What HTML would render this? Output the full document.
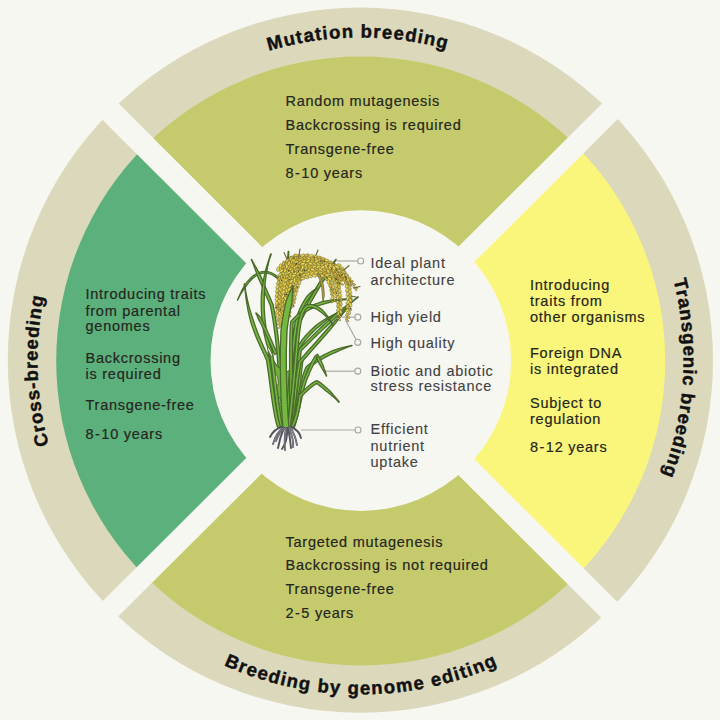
<!DOCTYPE html>
<html><head><meta charset="utf-8">
<style>
html,body{margin:0;padding:0;background:#f7f7f2;width:720px;height:720px;overflow:hidden}
svg{display:block}
.t{font-family:"Liberation Sans",sans-serif;font-size:14.5px;letter-spacing:0.75px;fill:#262620;stroke:#262620;stroke-width:0.2px}
.lb{font-family:"Liberation Sans",sans-serif;font-size:14.5px;letter-spacing:0.75px;fill:#424242;stroke:#424242;stroke-width:0.12px}
.h{font-family:"Liberation Sans",sans-serif;font-size:18.5px;font-weight:bold;letter-spacing:1.2px;fill:#111;stroke:#111;stroke-width:0.45px}
</style></head>
<body>
<svg width="720" height="720" viewBox="0 0 720 720">
<defs>
<path id="pTop" d="M 37.5 360.5 A 323 323 0 0 1 683.5 360.5"/>
<path id="pRight" d="M 360.5 37.5 A 323 323 0 0 1 360.5 683.5"/>
<path id="pLeft" d="M 360.5 683.5 A 323 323 0 0 1 360.5 37.5"/>
<path id="pBot" d="M 26.5 360.5 A 334 334 0 0 0 694.5 360.5"/>
</defs>
<rect width="720" height="720" fill="#f7f7f2"/>
<circle cx="360.4" cy="360.2" r="352.6" fill="#dcd8bb"/>
<path d="M 360.7 361.0 L 145.39 145.69 A 304.5 304.5 0 0 1 576.01 145.69 Z" fill="#c5cb6d"/>
<path d="M 360.7 361.0 L 576.01 145.69 A 304.5 304.5 0 0 1 576.01 576.31 Z" fill="#f9f67b"/>
<path d="M 360.7 361.0 L 576.01 576.31 A 304.5 304.5 0 0 1 145.39 576.31 Z" fill="#c5cb6d"/>
<path d="M 360.7 361.0 L 145.39 576.31 A 304.5 304.5 0 0 1 145.39 145.69 Z" fill="#5cb07b"/>
<polygon points="-10,-25 730,714.6 730,746.2 -10,7.5" fill="#f7f7f2"/>
<polygon points="716,-10 747.5,-10 4.1,730 -26.7,730" fill="#f7f7f2"/>
<circle cx="360.8" cy="360.6" r="150.3" fill="#f7f7f2"/>

<text class="h"><textPath href="#pTop" startOffset="504.7" text-anchor="middle">Mutation breeding</textPath></text>
<text class="h" style="letter-spacing:0.95px"><textPath href="#pRight" startOffset="525.4" text-anchor="middle">Transgenic breeding</textPath></text>
<text class="h" style="letter-spacing:1px"><textPath href="#pLeft" startOffset="497" text-anchor="middle">Cross-breeding</textPath></text>
<text class="h" style="letter-spacing:1.32px"><textPath href="#pBot" startOffset="525.1" text-anchor="middle">Breeding by genome editing</textPath></text>

<g class="t">
<text x="285.5" y="106.3">Random mutagenesis</text>
<text x="285.5" y="130">Backcrossing is required</text>
<text x="285.5" y="153.8">Transgene-free</text>
<text x="285.5" y="177.5">8<tspan dx="0.7">-</tspan><tspan dx="0.7">10 years</tspan></text>

<text x="285.5" y="546.7">Targeted mutagenesis</text>
<text x="285.5" y="570.4">Backcrossing is not required</text>
<text x="285.5" y="594.3">Transgene-free</text>
<text x="285.5" y="617.6">2<tspan dx="0.7">-</tspan><tspan dx="0.7">5 years</tspan></text>

<text x="85.5" y="298.8">Introducing traits</text>
<text x="85.5" y="315.5">from parental</text>
<text x="85.5" y="331">genomes</text>
<text x="85.5" y="363">Backcrossing</text>
<text x="85.5" y="378.8">is required</text>
<text x="85.5" y="409.5">Transgene-free</text>
<text x="85.5" y="438.8">8<tspan dx="0.7">-</tspan><tspan dx="0.7">10 years</tspan></text>

<text x="530" y="289.8">Introducing</text>
<text x="530" y="306.4">traits from</text>
<text x="530" y="322">other organisms</text>
<text x="530" y="357.9">Foreign DNA</text>
<text x="530" y="373.7">is integrated</text>
<text x="530" y="407.8">Subject to</text>
<text x="530" y="423.6">regulation</text>
<text x="530" y="451.6">8<tspan dx="0.7">-</tspan><tspan dx="0.7">12 years</tspan></text>
</g>

<g class="lb">
<text x="370.5" y="268.3">Ideal plant</text>
<text x="370.5" y="285">architecture</text>
<text x="370.5" y="322.1">High yield</text>
<text x="370.5" y="347.7">High quality</text>
<text x="370.5" y="376.1">Biotic and abiotic</text>
<text x="370.5" y="390.6">stress resistance</text>
<text x="370.5" y="434.3">Efficient</text>
<text x="370.5" y="450.8">nutrient</text>
<text x="370.5" y="467">uptake</text>
</g>

<g stroke="#a8a8a4" stroke-width="1.2" fill="#f7f7f2">
<path d="M 336.7 261 L 357.7 261" fill="none"/>
<path d="M 342 317.2 L 354.8 317.2" fill="none"/>
<path d="M 345.7 320.5 L 356 339.5" fill="none"/>
<path d="M 325 371.2 L 354.8 371.2" fill="none"/>
<path d="M 301 430 L 355 430" fill="none"/>
<circle cx="360.7" cy="261" r="3"/>
<circle cx="357.8" cy="317.2" r="3"/>
<circle cx="357.8" cy="342.3" r="3"/>
<circle cx="357.8" cy="371.2" r="3"/>
<circle cx="358" cy="430" r="3"/>
</g>

<!-- PLANT -->
<g id="plant" stroke-linejoin="round">
<path d="M282.6 281.4 L279.9 278.6 L277.2 276.2 L274.4 274.2 L271.5 272.8 L268.6 271.8 L265.6 271.4 L262.7 271.5 L259.7 272.2 L256.7 273.5 L253.8 275.3 L250.8 277.8 L248.0 280.9 L245.1 284.6 L242.5 289.1 L240.0 294.2 L237.4 299.9 L237.6 300.1 L240.5 294.5 L243.5 289.7 L246.5 285.6 L249.3 282.0 L252.0 279.0 L254.8 276.7 L257.5 275.0 L260.2 273.8 L262.9 273.2 L265.5 273.1 L268.2 273.5 L270.8 274.3 L273.5 275.7 L276.1 277.5 L278.8 279.8 L281.4 282.6Z" fill="#74b842" stroke="#4b6a2c" stroke-width="1.2"/>
<path d="M286.4 427.0 L286.2 417.8 L286.1 407.9 L286.1 397.5 L286.0 386.6 L286.1 375.2 L286.2 363.6 L286.3 351.8 L286.5 339.8 L286.7 327.9 L287.0 316.0 L287.3 304.3 L287.7 292.8 L288.2 281.7 L288.3 271.1 L288.4 261.0 L288.8 251.5 L288.2 251.5 L287.4 260.9 L286.3 271.0 L285.4 281.6 L284.9 292.7 L284.5 304.2 L284.2 315.9 L283.9 327.8 L283.7 339.8 L283.5 351.7 L283.3 363.6 L283.3 375.2 L283.2 386.6 L283.2 397.5 L283.3 408.0 L283.4 417.8 L283.6 427.0Z" fill="#74b842" stroke="#4b6a2c" stroke-width="1.3"/>
<path d="M293.2 335.6 L295.7 331.0 L298.1 326.3 L300.6 321.6 L303.1 316.9 L305.6 312.2 L308.1 307.5 L310.7 302.8 L313.3 298.1 L316.0 293.4 L318.8 288.7 L321.6 284.0 L324.5 279.3 L327.5 274.6 L330.3 269.6 L333.1 264.5 L336.2 259.6 L335.8 259.4 L332.3 264.0 L328.7 268.5 L325.2 273.0 L322.2 277.8 L319.2 282.5 L316.4 287.3 L313.6 292.0 L310.9 296.7 L308.3 301.5 L305.7 306.2 L303.1 310.9 L300.6 315.6 L298.1 320.3 L295.6 325.0 L293.2 329.7 L290.8 334.4Z" fill="#74b842" stroke="#4b6a2c" stroke-width="1.3"/>
<path d="M284.4 426.9 L284.0 419.8 L283.6 412.5 L283.2 404.9 L282.8 397.2 L282.4 389.3 L281.9 381.3 L281.3 373.2 L280.7 365.1 L280.1 357.1 L279.4 349.1 L278.6 341.2 L277.7 333.5 L276.7 325.9 L275.6 318.6 L274.4 311.5 L273.1 304.6 L271.9 301.9 L270.8 299.3 L269.6 296.6 L268.3 293.7 L267.1 290.8 L265.8 287.9 L264.5 284.9 L263.2 281.9 L261.9 278.8 L260.5 275.8 L259.0 272.9 L257.5 270.1 L256.0 267.3 L254.4 264.6 L253.0 262.0 L251.7 259.4 L251.3 259.6 L252.5 262.2 L253.6 265.0 L254.6 267.9 L255.7 270.9 L256.8 273.9 L258.0 277.0 L259.3 280.0 L260.6 283.0 L261.9 286.0 L263.2 289.0 L264.5 292.0 L265.8 294.9 L267.0 297.7 L268.2 300.4 L269.3 303.1 L270.3 305.4 L271.6 312.0 L272.8 319.0 L273.9 326.3 L274.9 333.8 L275.8 341.5 L276.6 349.4 L277.3 357.3 L277.9 365.4 L278.5 373.4 L279.1 381.5 L279.6 389.4 L280.0 397.3 L280.4 405.1 L280.8 412.6 L281.2 420.0 L281.6 427.1Z" fill="#74b842" stroke="#4b6a2c" stroke-width="1.3"/>
<path d="M268 352 L272 380 L274.5 400 L276.5 413 L279 422 L282 426.5 L286 428 L291 427 L294.5 422 L298 410 L300 395 L301 378 L303 360 L296 368 L286 372 L277 366Z" fill="#70b43e" stroke="#4d6d2c" stroke-width="1.2"/>
<path d="M282.5 426.7 L281.7 422.6 L281.1 418.4 L280.4 414.1 L279.8 409.7 L279.2 405.3 L278.6 400.8 L278.0 396.2 L277.5 391.6 L276.9 386.9 L276.4 382.1 L275.8 377.2 L275.2 372.3 L274.5 367.2 L273.9 362.2 L273.2 357.0 L272.5 351.6 L270.8 347.2 L269.3 342.5 L268.0 337.5 L266.8 332.2 L265.9 326.5 L265.1 320.7 L264.6 314.5 L264.2 308.2 L264.2 301.7 L264.4 295.1 L264.7 288.4 L265.3 281.6 L266.2 274.7 L267.4 267.8 L269.0 260.9 L271.3 254.1 L270.7 253.9 L268.5 260.7 L266.4 267.5 L264.6 274.4 L263.2 281.3 L262.1 288.1 L261.4 294.9 L261.2 301.7 L261.3 308.3 L261.6 314.7 L262.1 321.0 L262.9 327.0 L263.9 332.8 L265.1 338.2 L266.4 343.4 L268.0 348.2 L269.5 352.4 L270.2 357.4 L270.9 362.6 L271.6 367.6 L272.2 372.6 L272.8 377.5 L273.4 382.4 L274.0 387.2 L274.5 391.9 L275.1 396.6 L275.6 401.2 L276.2 405.7 L276.8 410.1 L277.5 414.5 L278.1 418.8 L278.8 423.1 L279.5 427.3Z" fill="#74b842" stroke="#4b6a2c" stroke-width="1.3"/>
<path d="M280.4 426.6 L279.5 423.6 L278.7 420.5 L277.9 417.1 L277.2 413.4 L276.5 409.6 L275.9 405.6 L275.2 401.4 L274.6 397.0 L274.0 392.6 L273.4 388.0 L272.8 383.4 L272.2 378.7 L271.6 374.0 L270.9 369.2 L270.2 364.5 L269.4 359.6 L268.2 356.5 L266.8 353.5 L265.3 350.3 L263.8 346.9 L262.2 343.4 L260.5 339.6 L258.8 335.5 L257.1 331.2 L255.4 326.6 L253.8 321.7 L252.0 316.4 L250.2 310.8 L248.6 304.8 L247.1 298.3 L245.7 291.4 L244.8 284.0 L244.2 284.0 L245.2 291.5 L246.0 298.5 L247.1 305.1 L248.2 311.3 L249.5 317.1 L250.9 322.6 L252.6 327.6 L254.3 332.3 L256.0 336.7 L257.7 340.8 L259.4 344.6 L261.1 348.2 L262.6 351.6 L264.1 354.7 L265.4 357.7 L266.6 360.4 L267.2 364.9 L267.9 369.7 L268.6 374.4 L269.2 379.1 L269.8 383.8 L270.4 388.4 L271.0 393.0 L271.6 397.5 L272.3 401.8 L272.9 406.0 L273.6 410.1 L274.3 414.0 L275.0 417.7 L275.8 421.2 L276.7 424.5 L277.6 427.4Z" fill="#74b842" stroke="#4b6a2c" stroke-width="1.3"/>
<path d="M277.2 353.5 L275.7 350.1 L274.3 346.9 L272.9 343.7 L271.6 340.6 L270.2 337.6 L269.0 334.7 L267.7 331.9 L266.5 329.2 L265.2 326.6 L264.0 324.2 L262.9 321.8 L261.7 319.6 L260.5 317.5 L259.0 315.8 L257.5 314.3 L256.2 312.9 L255.8 313.1 L256.7 314.8 L257.5 316.8 L258.2 318.9 L259.4 320.9 L260.5 323.0 L261.7 325.3 L262.8 327.8 L264.0 330.3 L265.3 333.0 L266.5 335.8 L267.8 338.7 L269.1 341.7 L270.5 344.8 L271.9 347.9 L273.3 351.2 L274.8 354.5Z" fill="#74b842" stroke="#4b6a2c" stroke-width="1.3"/>
<ellipse cx="270" cy="352" rx="1.1" ry="5" transform="rotate(-25 270 352)" fill="#f2f2ea" stroke="#4b6a2c" stroke-width="0.9"/>
<ellipse cx="277" cy="380" rx="1.0" ry="6" transform="rotate(-8 277 380)" fill="#f2f2ea" stroke="#4b6a2c" stroke-width="0.9"/>
<ellipse cx="295" cy="375" rx="1.1" ry="6" transform="rotate(10 295 375)" fill="#f2f2ea" stroke="#4b6a2c" stroke-width="0.9"/>
<ellipse cx="291" cy="398" rx="0.9" ry="5" transform="rotate(6 291 398)" fill="#f2f2ea" stroke="#4b6a2c" stroke-width="0.9"/>
<ellipse cx="280" cy="402" rx="0.8" ry="5" transform="rotate(-4 280 402)" fill="#f2f2ea" stroke="#4b6a2c" stroke-width="0.9"/>
<path d="M288.4 427.1 L288.8 420.0 L289.2 412.7 L289.7 405.2 L290.3 397.6 L290.8 389.9 L291.4 382.3 L292.0 374.7 L292.7 367.3 L293.3 360.0 L294.0 353.0 L294.7 346.4 L295.4 340.1 L296.2 334.3 L296.9 329.0 L297.6 324.3 L298.4 320.3 L299.3 317.7 L300.2 315.1 L301.2 312.6 L302.3 310.2 L303.3 308.0 L304.4 305.8 L305.5 303.7 L306.7 301.7 L307.9 299.9 L309.2 298.1 L310.3 296.3 L311.5 294.5 L312.8 292.8 L314.1 291.1 L315.5 289.5 L317.2 288.2 L316.8 287.8 L315.2 289.2 L313.4 290.4 L311.7 291.8 L310.0 293.2 L308.4 294.7 L306.9 296.4 L305.6 298.3 L304.3 300.3 L303.1 302.3 L301.9 304.5 L300.8 306.7 L299.7 309.1 L298.6 311.5 L297.6 314.1 L296.6 316.8 L295.6 319.7 L294.9 323.9 L294.1 328.6 L293.4 333.9 L292.6 339.8 L291.9 346.1 L291.2 352.7 L290.5 359.7 L289.8 367.0 L289.2 374.5 L288.6 382.0 L288.0 389.7 L287.4 397.4 L286.9 405.0 L286.4 412.5 L286.0 419.8 L285.6 426.9Z" fill="#74b842" stroke="#4b6a2c" stroke-width="1.3"/>
<path d="M292.4 427.2 L293.3 421.2 L294.1 415.3 L294.9 409.5 L295.6 403.7 L296.3 398.1 L296.9 392.7 L297.5 387.4 L298.0 382.3 L298.5 377.4 L299.0 372.7 L299.4 368.2 L299.9 364.0 L300.3 360.1 L300.6 356.5 L301.0 353.2 L301.2 350.7 L303.9 348.1 L306.8 345.2 L309.9 342.1 L313.1 338.9 L316.4 335.7 L319.9 332.4 L323.4 329.1 L327.0 325.7 L330.7 322.2 L334.4 318.8 L338.2 315.2 L342.0 311.5 L345.9 307.8 L349.8 304.2 L353.9 300.6 L358.2 297.2 L357.8 296.8 L353.6 300.2 L349.2 303.5 L344.9 306.7 L340.7 310.0 L336.6 313.3 L332.6 316.7 L328.7 320.1 L325.0 323.6 L321.4 327.0 L317.9 330.4 L314.5 333.7 L311.2 336.9 L308.0 340.1 L304.9 343.2 L301.9 346.1 L298.8 349.3 L298.2 352.8 L297.8 356.1 L297.5 359.8 L297.1 363.7 L296.6 367.9 L296.2 372.4 L295.7 377.1 L295.2 382.0 L294.7 387.1 L294.1 392.4 L293.5 397.8 L292.8 403.4 L292.1 409.1 L291.3 414.9 L290.5 420.8 L289.6 426.8Z" fill="#74b842" stroke="#4b6a2c" stroke-width="1.3"/>
<path d="M291.4 427.1 L291.7 418.3 L291.9 409.8 L292.1 401.4 L292.2 393.3 L292.3 385.5 L292.4 377.9 L292.4 370.6 L292.4 363.6 L292.4 357.0 L292.4 350.7 L292.4 344.9 L292.5 339.4 L292.6 334.4 L292.8 329.8 L293.0 325.7 L293.2 322.6 L295.4 320.4 L297.9 318.0 L300.5 315.8 L303.2 313.7 L306.0 311.8 L308.9 310.0 L312.1 308.4 L315.4 306.9 L319.0 305.5 L322.8 304.3 L326.8 303.1 L331.1 302.0 L335.8 301.0 L340.8 300.2 L346.2 299.5 L352.0 299.2 L352.0 298.8 L346.2 299.0 L340.7 299.2 L335.6 299.6 L330.8 300.1 L326.3 300.8 L322.0 301.7 L318.1 303.0 L314.4 304.4 L310.9 305.9 L307.6 307.6 L304.5 309.5 L301.6 311.5 L298.8 313.7 L296.1 316.0 L293.5 318.5 L290.8 321.4 L290.3 325.5 L290.1 329.7 L289.9 334.3 L289.8 339.4 L289.7 344.8 L289.6 350.7 L289.6 357.0 L289.6 363.6 L289.6 370.6 L289.6 377.9 L289.6 385.4 L289.5 393.3 L289.4 401.4 L289.2 409.7 L289.0 418.2 L288.6 426.9Z" fill="#74b842" stroke="#4b6a2c" stroke-width="1.3"/>
<path d="M292.4 427.2 L293.1 422.2 L293.8 417.2 L294.4 412.3 L295.0 407.5 L295.6 402.7 L296.2 398.2 L296.7 393.7 L297.2 389.4 L297.7 385.3 L298.2 381.3 L298.7 377.6 L299.2 374.0 L299.8 370.7 L300.3 367.7 L300.8 364.8 L301.2 362.7 L303.8 359.7 L306.7 356.5 L309.5 353.3 L312.3 350.1 L315.2 346.8 L318.1 343.5 L321.1 340.2 L324.0 336.8 L327.1 333.3 L330.1 329.8 L333.1 326.1 L336.2 322.3 L339.2 318.3 L342.4 314.3 L345.7 310.2 L349.2 306.2 L348.8 305.8 L345.3 309.9 L341.7 313.7 L338.2 317.4 L334.7 321.0 L331.3 324.5 L328.1 328.0 L325.0 331.5 L322.0 335.0 L319.0 338.4 L316.1 341.7 L313.2 345.0 L310.3 348.3 L307.4 351.5 L304.6 354.7 L301.8 357.9 L298.8 361.3 L298.1 364.3 L297.6 367.2 L297.0 370.3 L296.5 373.6 L296.0 377.2 L295.5 381.0 L295.0 384.9 L294.5 389.1 L294.0 393.4 L293.5 397.8 L292.9 402.4 L292.3 407.1 L291.7 411.9 L291.1 416.8 L290.4 421.8 L289.6 426.8Z" fill="#74b842" stroke="#4b6a2c" stroke-width="1.3"/>
<path d="M291.4 427.1 L291.9 422.1 L292.4 417.0 L292.9 411.9 L293.3 406.8 L293.7 401.8 L294.1 396.8 L294.4 391.8 L294.7 387.0 L295.1 382.2 L295.4 377.5 L295.7 372.9 L296.0 368.5 L296.3 364.1 L296.7 360.0 L297.0 356.0 L297.3 352.4 L298.9 349.6 L300.8 346.6 L302.8 343.7 L304.9 340.8 L307.1 338.1 L309.5 335.5 L311.9 333.0 L314.4 330.5 L317.1 328.1 L319.8 325.9 L322.5 323.6 L325.2 321.3 L328.1 319.1 L331.0 317.0 L334.0 314.9 L337.1 313.2 L336.9 312.8 L333.7 314.5 L330.5 316.2 L327.3 317.9 L324.1 319.7 L321.1 321.7 L318.1 323.7 L315.3 326.1 L312.6 328.5 L310.0 331.0 L307.4 333.6 L305.0 336.3 L302.7 339.2 L300.6 342.1 L298.5 345.1 L296.6 348.2 L294.7 351.6 L294.3 355.7 L293.9 359.7 L293.6 363.9 L293.3 368.3 L293.0 372.7 L292.6 377.3 L292.3 382.0 L292.0 386.8 L291.7 391.6 L291.3 396.6 L291.0 401.6 L290.6 406.6 L290.1 411.6 L289.7 416.7 L289.2 421.8 L288.6 426.9Z" fill="#74b842" stroke="#4b6a2c" stroke-width="1.3"/>
<path d="M294.3 427.3 L295.4 423.2 L296.4 419.2 L297.3 415.1 L298.1 411.2 L298.8 407.2 L299.6 403.4 L300.3 399.6 L301.0 395.9 L301.7 392.2 L302.4 388.6 L303.2 385.1 L304.0 381.6 L304.9 378.2 L305.9 374.9 L307.0 371.7 L308.1 368.8 L310.0 367.2 L312.2 365.4 L314.6 363.7 L317.0 362.0 L319.6 360.4 L322.3 358.9 L325.0 357.4 L327.9 355.9 L330.8 354.5 L333.7 353.2 L336.7 351.8 L339.7 350.4 L342.7 349.1 L345.8 347.8 L348.9 346.6 L352.1 345.7 L351.9 345.3 L348.7 346.1 L345.5 346.9 L342.2 347.7 L339.0 348.6 L335.8 349.6 L332.7 350.7 L329.6 352.0 L326.6 353.5 L323.7 354.9 L320.9 356.5 L318.2 358.1 L315.5 359.8 L313.0 361.5 L310.6 363.3 L308.3 365.1 L305.9 367.2 L304.5 370.8 L303.3 374.1 L302.3 377.5 L301.4 381.0 L300.5 384.5 L299.7 388.1 L299.0 391.7 L298.3 395.4 L297.6 399.1 L296.9 402.9 L296.2 406.7 L295.4 410.6 L294.6 414.6 L293.7 418.5 L292.7 422.6 L291.7 426.7Z" fill="#74b842" stroke="#4b6a2c" stroke-width="1.3"/>
<path d="M294.3 427.4 L295.4 424.2 L296.4 420.9 L297.3 417.5 L298.2 414.2 L299.0 410.8 L299.8 407.5 L300.5 404.2 L301.2 400.9 L301.9 397.7 L302.6 394.6 L303.3 391.6 L304.0 388.7 L304.8 385.9 L305.6 383.3 L306.4 380.8 L307.3 378.5 L308.0 376.7 L308.8 374.9 L309.5 373.1 L310.2 371.5 L311.0 369.8 L311.7 368.3 L312.4 366.7 L313.1 365.3 L313.8 363.9 L314.5 362.6 L315.1 361.3 L315.8 360.2 L316.4 359.1 L317.0 358.1 L317.6 357.1 L316.6 356.8 L316.3 357.3 L316.9 358.6 L317.5 359.9 L318.2 361.2 L318.8 362.5 L319.4 363.8 L320.1 365.2 L320.8 366.5 L321.6 367.7 L322.3 369.0 L323.1 370.2 L323.8 371.4 L324.5 372.6 L325.2 373.8 L325.8 374.9 L326.3 376.1 L326.7 375.9 L326.2 374.8 L325.8 373.5 L325.4 372.2 L325.0 370.9 L324.5 369.6 L324.0 368.2 L323.6 366.8 L323.1 365.4 L322.5 364.0 L321.9 362.7 L321.3 361.3 L320.6 360.0 L320.0 358.7 L319.4 357.4 L318.8 356.2 L317.4 354.2 L315.3 355.7 L314.7 356.6 L314.0 357.7 L313.4 358.8 L312.7 360.0 L312.0 361.3 L311.3 362.7 L310.6 364.1 L309.9 365.6 L309.2 367.1 L308.5 368.7 L307.7 370.3 L307.0 372.1 L306.2 373.8 L305.5 375.6 L304.7 377.5 L303.8 379.9 L302.9 382.4 L302.1 385.1 L301.4 388.0 L300.6 390.9 L299.9 394.0 L299.2 397.1 L298.5 400.3 L297.8 403.6 L297.1 406.9 L296.3 410.2 L295.5 413.5 L294.7 416.8 L293.8 420.1 L292.8 423.4 L291.7 426.6Z" fill="#74b842" stroke="#4b6a2c" stroke-width="1.3"/>
<path d="M293.2 427.6 L294.1 425.9 L295.0 424.0 L295.8 422.1 L296.5 420.1 L297.2 418.0 L297.8 416.0 L298.3 413.9 L298.8 411.8 L299.3 409.7 L299.7 407.6 L300.1 405.6 L300.4 403.6 L300.7 401.6 L300.9 399.7 L301.2 397.9 L301.2 396.6 L302.1 395.8 L303.2 394.7 L304.3 393.6 L305.4 392.5 L306.5 391.5 L307.6 390.5 L308.7 389.5 L309.8 388.5 L310.8 387.6 L311.9 386.8 L312.9 386.0 L313.9 385.3 L314.8 384.7 L315.7 384.1 L316.6 383.7 L316.7 383.3 L317.5 384.1 L318.8 385.1 L320.2 386.1 L321.5 387.2 L322.9 388.3 L324.3 389.5 L325.7 390.7 L327.2 391.8 L328.7 393.0 L330.2 394.2 L331.7 395.4 L333.1 396.6 L334.6 397.9 L336.1 399.3 L337.5 400.7 L338.8 402.2 L339.2 401.8 L337.9 400.3 L336.6 398.8 L335.3 397.3 L334.0 395.8 L332.8 394.3 L331.5 392.8 L330.2 391.3 L328.8 389.9 L327.5 388.6 L326.1 387.4 L324.7 386.2 L323.3 385.0 L321.9 383.9 L320.5 382.9 L319.1 381.9 L317.3 380.7 L315.5 381.2 L314.4 381.7 L313.4 382.4 L312.3 383.1 L311.2 383.8 L310.2 384.7 L309.1 385.5 L308.0 386.5 L306.9 387.4 L305.8 388.5 L304.7 389.5 L303.5 390.6 L302.4 391.7 L301.3 392.8 L300.2 393.9 L298.8 395.4 L298.4 397.6 L298.2 399.4 L298.0 401.2 L297.7 403.2 L297.4 405.1 L297.0 407.1 L296.6 409.2 L296.2 411.2 L295.7 413.2 L295.1 415.2 L294.6 417.2 L293.9 419.2 L293.2 421.1 L292.5 422.9 L291.7 424.7 L290.8 426.4Z" fill="#74b842" stroke="#4b6a2c" stroke-width="1.3"/>
<path d="M290.4 427.2 L290.9 422.1 L291.5 416.9 L292.0 411.7 L292.6 406.5 L293.1 401.2 L293.7 395.9 L294.2 390.6 L294.7 385.4 L295.2 380.1 L295.7 374.9 L296.2 369.8 L296.7 364.7 L297.1 359.7 L297.6 354.7 L298.0 349.9 L298.4 345.1 L298.8 340.6 L299.2 336.4 L299.6 332.5 L300.1 328.8 L300.6 325.5 L301.1 322.5 L301.7 319.7 L302.3 317.2 L303.0 315.1 L303.7 313.1 L304.4 311.5 L305.2 310.2 L306.0 309.1 L306.8 308.3 L307.6 307.7 L308.3 307.3 L309.8 307.3 L311.5 307.4 L313.1 307.8 L314.6 308.3 L316.2 309.0 L317.7 309.8 L319.2 310.9 L320.8 312.0 L322.4 313.2 L324.0 314.5 L325.5 316.0 L327.1 317.6 L328.6 319.4 L330.1 321.2 L331.5 323.1 L332.8 325.1 L333.2 324.9 L331.9 322.8 L330.6 320.8 L329.3 318.8 L328.0 316.9 L326.7 315.0 L325.3 313.2 L323.9 311.6 L322.4 310.0 L320.9 308.7 L319.2 307.5 L317.4 306.5 L315.6 305.7 L313.8 305.1 L311.9 304.7 L309.9 304.6 L307.7 304.7 L306.2 305.3 L305.0 306.2 L303.9 307.3 L302.9 308.7 L302.0 310.3 L301.1 312.1 L300.4 314.2 L299.7 316.5 L299.0 319.1 L298.4 321.9 L297.9 325.1 L297.4 328.4 L296.9 332.1 L296.4 336.1 L296.0 340.3 L295.6 344.9 L295.2 349.6 L294.8 354.5 L294.4 359.4 L294.0 364.4 L293.5 369.5 L293.0 374.7 L292.5 379.9 L292.0 385.1 L291.5 390.4 L291.0 395.6 L290.4 400.9 L289.9 406.2 L289.3 411.4 L288.8 416.6 L288.2 421.8 L287.6 426.8Z" fill="#74b842" stroke="#4b6a2c" stroke-width="1.3"/>
<path d="M281 326 L278 312 L277 295 L278 280 L282 269 L290 261 L300 257 L315 256.5 L330 262 L342 270 L346 280 L340 283 L330 280 L323 277 L316 274 L307 274 L300 277 L294 283 L290 303 L286 320Z" fill="#dcc444" stroke="none" stroke-width="0"/>
<ellipse cx="302.5" cy="261.2" rx="2.40" ry="1.30" transform="rotate(128 302.5 261.2)" fill="#ead95e" stroke="#6c6430" stroke-width="0.5"/>
<ellipse cx="296.1" cy="264.0" rx="2.40" ry="1.30" transform="rotate(-63 296.1 264.0)" fill="#e6d24c" stroke="#6c6430" stroke-width="0.5"/>
<ellipse cx="281.1" cy="281.4" rx="2.40" ry="1.30" transform="rotate(70 281.1 281.4)" fill="#e6d24c" stroke="#6c6430" stroke-width="0.5"/>
<ellipse cx="341.7" cy="268.2" rx="2.40" ry="1.30" transform="rotate(11 341.7 268.2)" fill="#e6d24c" stroke="#6c6430" stroke-width="0.5"/>
<ellipse cx="302.8" cy="264.6" rx="2.40" ry="1.30" transform="rotate(12 302.8 264.6)" fill="#d4b23e" stroke="#6c6430" stroke-width="0.5"/>
<ellipse cx="332.0" cy="293.5" rx="2.40" ry="1.30" transform="rotate(103 332.0 293.5)" fill="#d4b23e" stroke="#6c6430" stroke-width="0.5"/>
<ellipse cx="294.1" cy="272.5" rx="2.40" ry="1.30" transform="rotate(-50 294.1 272.5)" fill="#e6d24c" stroke="#6c6430" stroke-width="0.5"/>
<ellipse cx="282.1" cy="273.1" rx="2.40" ry="1.30" transform="rotate(-63 282.1 273.1)" fill="#c8c44e" stroke="#6c6430" stroke-width="0.5"/>
<ellipse cx="336.6" cy="278.7" rx="2.40" ry="1.30" transform="rotate(35 336.6 278.7)" fill="#d2c14a" stroke="#6c6430" stroke-width="0.5"/>
<ellipse cx="342.0" cy="276.2" rx="2.00" ry="1.08" transform="rotate(4 342.0 276.2)" fill="#c8c44e" stroke="#6c6430" stroke-width="0.5"/>
<ellipse cx="294.1" cy="268.6" rx="2.40" ry="1.30" transform="rotate(105 294.1 268.6)" fill="#ead95e" stroke="#6c6430" stroke-width="0.5"/>
<ellipse cx="340.8" cy="271.4" rx="2.40" ry="1.30" transform="rotate(79 340.8 271.4)" fill="#e6d24c" stroke="#6c6430" stroke-width="0.5"/>
<ellipse cx="337.9" cy="282.8" rx="2.40" ry="1.30" transform="rotate(37 337.9 282.8)" fill="#e6d24c" stroke="#6c6430" stroke-width="0.5"/>
<ellipse cx="350.4" cy="296.0" rx="2.40" ry="1.30" transform="rotate(64 350.4 296.0)" fill="#d2c14a" stroke="#6c6430" stroke-width="0.5"/>
<ellipse cx="332.3" cy="301.8" rx="1.32" ry="0.72" transform="rotate(135 332.3 301.8)" fill="#c8c44e" stroke="#6c6430" stroke-width="0.5"/>
<ellipse cx="310.3" cy="276.2" rx="2.40" ry="1.30" transform="rotate(19 310.3 276.2)" fill="#ead95e" stroke="#6c6430" stroke-width="0.5"/>
<ellipse cx="340.5" cy="269.6" rx="2.40" ry="1.30" transform="rotate(7 340.5 269.6)" fill="#c8c44e" stroke="#6c6430" stroke-width="0.5"/>
<ellipse cx="284.9" cy="269.8" rx="2.40" ry="1.30" transform="rotate(79 284.9 269.8)" fill="#d2c14a" stroke="#6c6430" stroke-width="0.5"/>
<ellipse cx="331.9" cy="272.6" rx="2.40" ry="1.30" transform="rotate(59 331.9 272.6)" fill="#e6d24c" stroke="#6c6430" stroke-width="0.5"/>
<ellipse cx="284.2" cy="324.6" rx="1.32" ry="0.72" transform="rotate(111 284.2 324.6)" fill="#e6d24c" stroke="#6c6430" stroke-width="0.5"/>
<ellipse cx="335.0" cy="271.2" rx="2.40" ry="1.30" transform="rotate(-0 335.0 271.2)" fill="#d2c14a" stroke="#6c6430" stroke-width="0.5"/>
<ellipse cx="299.4" cy="263.0" rx="2.40" ry="1.30" transform="rotate(122 299.4 263.0)" fill="#ead95e" stroke="#6c6430" stroke-width="0.5"/>
<ellipse cx="290.0" cy="262.1" rx="2.40" ry="1.30" transform="rotate(4 290.0 262.1)" fill="#d4b23e" stroke="#6c6430" stroke-width="0.5"/>
<ellipse cx="303.4" cy="275.5" rx="2.40" ry="1.30" transform="rotate(89 303.4 275.5)" fill="#c8c44e" stroke="#6c6430" stroke-width="0.5"/>
<ellipse cx="301.1" cy="278.9" rx="2.40" ry="1.30" transform="rotate(101 301.1 278.9)" fill="#d4b23e" stroke="#6c6430" stroke-width="0.5"/>
<ellipse cx="349.1" cy="278.2" rx="2.12" ry="1.15" transform="rotate(18 349.1 278.2)" fill="#e6d24c" stroke="#6c6430" stroke-width="0.5"/>
<ellipse cx="328.9" cy="274.4" rx="2.40" ry="1.30" transform="rotate(-18 328.9 274.4)" fill="#e6d24c" stroke="#6c6430" stroke-width="0.5"/>
<ellipse cx="328.7" cy="264.4" rx="2.40" ry="1.30" transform="rotate(-8 328.7 264.4)" fill="#d2c14a" stroke="#6c6430" stroke-width="0.5"/>
<ellipse cx="285.5" cy="322.5" rx="1.47" ry="0.80" transform="rotate(57 285.5 322.5)" fill="#c8c44e" stroke="#6c6430" stroke-width="0.5"/>
<ellipse cx="316.6" cy="269.3" rx="2.40" ry="1.30" transform="rotate(20 316.6 269.3)" fill="#d4b23e" stroke="#6c6430" stroke-width="0.5"/>
<ellipse cx="333.5" cy="277.9" rx="2.40" ry="1.30" transform="rotate(90 333.5 277.9)" fill="#e6d24c" stroke="#6c6430" stroke-width="0.5"/>
<ellipse cx="285.2" cy="310.6" rx="2.40" ry="1.30" transform="rotate(57 285.2 310.6)" fill="#e6d24c" stroke="#6c6430" stroke-width="0.5"/>
<ellipse cx="293.3" cy="265.3" rx="2.40" ry="1.30" transform="rotate(149 293.3 265.3)" fill="#e6d24c" stroke="#6c6430" stroke-width="0.5"/>
<ellipse cx="308.2" cy="261.1" rx="2.40" ry="1.30" transform="rotate(-27 308.2 261.1)" fill="#e6d24c" stroke="#6c6430" stroke-width="0.5"/>
<ellipse cx="332.9" cy="276.0" rx="2.40" ry="1.30" transform="rotate(-7 332.9 276.0)" fill="#ead95e" stroke="#6c6430" stroke-width="0.5"/>
<ellipse cx="347.7" cy="294.1" rx="2.40" ry="1.30" transform="rotate(111 347.7 294.1)" fill="#e6d24c" stroke="#6c6430" stroke-width="0.5"/>
<ellipse cx="298.7" cy="256.2" rx="2.40" ry="1.30" transform="rotate(-50 298.7 256.2)" fill="#c8c44e" stroke="#6c6430" stroke-width="0.5"/>
<ellipse cx="282.6" cy="304.3" rx="2.40" ry="1.30" transform="rotate(110 282.6 304.3)" fill="#d2c14a" stroke="#6c6430" stroke-width="0.5"/>
<ellipse cx="342.9" cy="276.6" rx="2.15" ry="1.17" transform="rotate(78 342.9 276.6)" fill="#ead95e" stroke="#6c6430" stroke-width="0.5"/>
<ellipse cx="291.8" cy="260.5" rx="2.40" ry="1.30" transform="rotate(100 291.8 260.5)" fill="#ead95e" stroke="#6c6430" stroke-width="0.5"/>
<ellipse cx="333.3" cy="286.8" rx="2.40" ry="1.30" transform="rotate(55 333.3 286.8)" fill="#e6d24c" stroke="#6c6430" stroke-width="0.5"/>
<ellipse cx="308.8" cy="258.1" rx="2.40" ry="1.30" transform="rotate(29 308.8 258.1)" fill="#e6d24c" stroke="#6c6430" stroke-width="0.5"/>
<ellipse cx="294.5" cy="257.3" rx="2.40" ry="1.30" transform="rotate(-52 294.5 257.3)" fill="#e6d24c" stroke="#6c6430" stroke-width="0.5"/>
<ellipse cx="332.8" cy="266.4" rx="2.40" ry="1.30" transform="rotate(8 332.8 266.4)" fill="#ead95e" stroke="#6c6430" stroke-width="0.5"/>
<ellipse cx="279.9" cy="289.3" rx="2.40" ry="1.30" transform="rotate(75 279.9 289.3)" fill="#e6d24c" stroke="#6c6430" stroke-width="0.5"/>
<ellipse cx="289.7" cy="315.9" rx="1.51" ry="0.82" transform="rotate(55 289.7 315.9)" fill="#c8c44e" stroke="#6c6430" stroke-width="0.5"/>
<ellipse cx="296.0" cy="276.7" rx="2.40" ry="1.30" transform="rotate(84 296.0 276.7)" fill="#e6d24c" stroke="#6c6430" stroke-width="0.5"/>
<ellipse cx="284.1" cy="288.2" rx="2.40" ry="1.30" transform="rotate(131 284.1 288.2)" fill="#e6d24c" stroke="#6c6430" stroke-width="0.5"/>
<ellipse cx="291.6" cy="269.1" rx="2.40" ry="1.30" transform="rotate(11 291.6 269.1)" fill="#d4b23e" stroke="#6c6430" stroke-width="0.5"/>
<ellipse cx="346.2" cy="274.9" rx="2.35" ry="1.28" transform="rotate(9 346.2 274.9)" fill="#e6d24c" stroke="#6c6430" stroke-width="0.5"/>
<ellipse cx="278.0" cy="319.9" rx="1.87" ry="1.02" transform="rotate(114 278.0 319.9)" fill="#d2c14a" stroke="#6c6430" stroke-width="0.5"/>
<ellipse cx="336.5" cy="271.6" rx="2.40" ry="1.30" transform="rotate(69 336.5 271.6)" fill="#ead95e" stroke="#6c6430" stroke-width="0.5"/>
<ellipse cx="280.6" cy="266.1" rx="2.40" ry="1.30" transform="rotate(-87 280.6 266.1)" fill="#e6d24c" stroke="#6c6430" stroke-width="0.5"/>
<ellipse cx="285.7" cy="263.2" rx="2.40" ry="1.30" transform="rotate(146 285.7 263.2)" fill="#ead95e" stroke="#6c6430" stroke-width="0.5"/>
<ellipse cx="327.1" cy="263.6" rx="2.40" ry="1.30" transform="rotate(55 327.1 263.6)" fill="#e6d24c" stroke="#6c6430" stroke-width="0.5"/>
<ellipse cx="295.7" cy="255.4" rx="2.40" ry="1.30" transform="rotate(186 295.7 255.4)" fill="#d2c14a" stroke="#6c6430" stroke-width="0.5"/>
<ellipse cx="306.6" cy="263.9" rx="2.40" ry="1.30" transform="rotate(19 306.6 263.9)" fill="#d2c14a" stroke="#6c6430" stroke-width="0.5"/>
<ellipse cx="338.6" cy="273.4" rx="2.33" ry="1.26" transform="rotate(5 338.6 273.4)" fill="#e6d24c" stroke="#6c6430" stroke-width="0.5"/>
<ellipse cx="288.0" cy="297.5" rx="2.40" ry="1.30" transform="rotate(133 288.0 297.5)" fill="#e6d24c" stroke="#6c6430" stroke-width="0.5"/>
<ellipse cx="287.0" cy="286.9" rx="2.40" ry="1.30" transform="rotate(67 287.0 286.9)" fill="#d2c14a" stroke="#6c6430" stroke-width="0.5"/>
<ellipse cx="329.9" cy="277.5" rx="2.40" ry="1.30" transform="rotate(62 329.9 277.5)" fill="#d2c14a" stroke="#6c6430" stroke-width="0.5"/>
<ellipse cx="306.8" cy="255.4" rx="2.40" ry="1.30" transform="rotate(-28 306.8 255.4)" fill="#d4b23e" stroke="#6c6430" stroke-width="0.5"/>
<ellipse cx="334.7" cy="295.5" rx="2.40" ry="1.30" transform="rotate(55 334.7 295.5)" fill="#ead95e" stroke="#6c6430" stroke-width="0.5"/>
<ellipse cx="294.6" cy="287.3" rx="2.40" ry="1.30" transform="rotate(143 294.6 287.3)" fill="#d2c14a" stroke="#6c6430" stroke-width="0.5"/>
<ellipse cx="280.4" cy="325.3" rx="1.46" ry="0.79" transform="rotate(63 280.4 325.3)" fill="#e6d24c" stroke="#6c6430" stroke-width="0.5"/>
<ellipse cx="299.6" cy="277.0" rx="2.40" ry="1.30" transform="rotate(-63 299.6 277.0)" fill="#d4b23e" stroke="#6c6430" stroke-width="0.5"/>
<ellipse cx="347.4" cy="282.3" rx="1.32" ry="0.72" transform="rotate(21 347.4 282.3)" fill="#ead95e" stroke="#6c6430" stroke-width="0.5"/>
<ellipse cx="288.2" cy="271.3" rx="2.40" ry="1.30" transform="rotate(-1 288.2 271.3)" fill="#e6d24c" stroke="#6c6430" stroke-width="0.5"/>
<ellipse cx="276.8" cy="307.1" rx="2.40" ry="1.30" transform="rotate(113 276.8 307.1)" fill="#d4b23e" stroke="#6c6430" stroke-width="0.5"/>
<ellipse cx="304.7" cy="271.0" rx="2.40" ry="1.30" transform="rotate(6 304.7 271.0)" fill="#d4b23e" stroke="#6c6430" stroke-width="0.5"/>
<ellipse cx="337.8" cy="297.4" rx="2.40" ry="1.30" transform="rotate(107 337.8 297.4)" fill="#e6d24c" stroke="#6c6430" stroke-width="0.5"/>
<ellipse cx="305.8" cy="272.6" rx="2.40" ry="1.30" transform="rotate(110 305.8 272.6)" fill="#c8c44e" stroke="#6c6430" stroke-width="0.5"/>
<ellipse cx="340.7" cy="303.4" rx="2.40" ry="1.30" transform="rotate(69 340.7 303.4)" fill="#d2c14a" stroke="#6c6430" stroke-width="0.5"/>
<ellipse cx="339.7" cy="319.8" rx="1.32" ry="0.72" transform="rotate(67 339.7 319.8)" fill="#e6d24c" stroke="#6c6430" stroke-width="0.5"/>
<ellipse cx="279.4" cy="305.4" rx="2.40" ry="1.30" transform="rotate(53 279.4 305.4)" fill="#e6d24c" stroke="#6c6430" stroke-width="0.5"/>
<ellipse cx="285.1" cy="270.4" rx="2.40" ry="1.30" transform="rotate(-74 285.1 270.4)" fill="#e6d24c" stroke="#6c6430" stroke-width="0.5"/>
<ellipse cx="345.7" cy="277.9" rx="2.24" ry="1.21" transform="rotate(72 345.7 277.9)" fill="#e6d24c" stroke="#6c6430" stroke-width="0.5"/>
<ellipse cx="300.0" cy="269.9" rx="2.40" ry="1.30" transform="rotate(106 300.0 269.9)" fill="#d4b23e" stroke="#6c6430" stroke-width="0.5"/>
<ellipse cx="277.2" cy="290.8" rx="2.40" ry="1.30" transform="rotate(120 277.2 290.8)" fill="#e6d24c" stroke="#6c6430" stroke-width="0.5"/>
<ellipse cx="281.2" cy="269.3" rx="2.40" ry="1.30" transform="rotate(-8 281.2 269.3)" fill="#e6d24c" stroke="#6c6430" stroke-width="0.5"/>
<ellipse cx="308.5" cy="270.1" rx="2.40" ry="1.30" transform="rotate(11 308.5 270.1)" fill="#d4b23e" stroke="#6c6430" stroke-width="0.5"/>
<ellipse cx="279.9" cy="317.3" rx="2.01" ry="1.09" transform="rotate(59 279.9 317.3)" fill="#e6d24c" stroke="#6c6430" stroke-width="0.5"/>
<ellipse cx="279.2" cy="327.5" rx="1.32" ry="0.72" transform="rotate(120 279.2 327.5)" fill="#e6d24c" stroke="#6c6430" stroke-width="0.5"/>
<ellipse cx="303.7" cy="275.3" rx="2.40" ry="1.30" transform="rotate(-40 303.7 275.3)" fill="#ead95e" stroke="#6c6430" stroke-width="0.5"/>
<ellipse cx="276.7" cy="303.3" rx="2.40" ry="1.30" transform="rotate(117 276.7 303.3)" fill="#e6d24c" stroke="#6c6430" stroke-width="0.5"/>
<ellipse cx="340.2" cy="315.9" rx="1.77" ry="0.96" transform="rotate(52 340.2 315.9)" fill="#c8c44e" stroke="#6c6430" stroke-width="0.5"/>
<ellipse cx="338.0" cy="301.4" rx="2.40" ry="1.30" transform="rotate(118 338.0 301.4)" fill="#e6d24c" stroke="#6c6430" stroke-width="0.5"/>
<ellipse cx="345.7" cy="282.2" rx="2.40" ry="1.30" transform="rotate(103 345.7 282.2)" fill="#e6d24c" stroke="#6c6430" stroke-width="0.5"/>
<ellipse cx="336.1" cy="268.3" rx="2.40" ry="1.30" transform="rotate(-2 336.1 268.3)" fill="#e6d24c" stroke="#6c6430" stroke-width="0.5"/>
<ellipse cx="314.3" cy="266.7" rx="2.40" ry="1.30" transform="rotate(-27 314.3 266.7)" fill="#e6d24c" stroke="#6c6430" stroke-width="0.5"/>
<ellipse cx="293.8" cy="301.8" rx="2.09" ry="1.13" transform="rotate(61 293.8 301.8)" fill="#d4b23e" stroke="#6c6430" stroke-width="0.5"/>
<ellipse cx="348.6" cy="317.0" rx="1.71" ry="0.92" transform="rotate(62 348.6 317.0)" fill="#e6d24c" stroke="#6c6430" stroke-width="0.5"/>
<ellipse cx="285.3" cy="273.7" rx="2.40" ry="1.30" transform="rotate(-22 285.3 273.7)" fill="#ead95e" stroke="#6c6430" stroke-width="0.5"/>
<ellipse cx="326.1" cy="276.2" rx="2.40" ry="1.30" transform="rotate(41 326.1 276.2)" fill="#c8c44e" stroke="#6c6430" stroke-width="0.5"/>
<ellipse cx="331.2" cy="269.5" rx="2.40" ry="1.30" transform="rotate(2 331.2 269.5)" fill="#e6d24c" stroke="#6c6430" stroke-width="0.5"/>
<ellipse cx="287.2" cy="277.0" rx="2.40" ry="1.30" transform="rotate(-56 287.2 277.0)" fill="#e6d24c" stroke="#6c6430" stroke-width="0.5"/>
<ellipse cx="347.3" cy="290.1" rx="2.40" ry="1.30" transform="rotate(122 347.3 290.1)" fill="#e6d24c" stroke="#6c6430" stroke-width="0.5"/>
<ellipse cx="297.8" cy="286.2" rx="2.40" ry="1.30" transform="rotate(75 297.8 286.2)" fill="#e6d24c" stroke="#6c6430" stroke-width="0.5"/>
<ellipse cx="333.1" cy="271.3" rx="2.40" ry="1.30" transform="rotate(32 333.1 271.3)" fill="#d4b23e" stroke="#6c6430" stroke-width="0.5"/>
<ellipse cx="316.0" cy="272.8" rx="2.40" ry="1.30" transform="rotate(-29 316.0 272.8)" fill="#e6d24c" stroke="#6c6430" stroke-width="0.5"/>
<ellipse cx="354.0" cy="284.4" rx="1.66" ry="0.90" transform="rotate(17 354.0 284.4)" fill="#c8c44e" stroke="#6c6430" stroke-width="0.5"/>
<ellipse cx="334.9" cy="281.6" rx="2.40" ry="1.30" transform="rotate(114 334.9 281.6)" fill="#ead95e" stroke="#6c6430" stroke-width="0.5"/>
<ellipse cx="314.3" cy="275.5" rx="2.40" ry="1.30" transform="rotate(35 314.3 275.5)" fill="#ead95e" stroke="#6c6430" stroke-width="0.5"/>
<ellipse cx="288.9" cy="272.5" rx="2.40" ry="1.30" transform="rotate(151 288.9 272.5)" fill="#e6d24c" stroke="#6c6430" stroke-width="0.5"/>
<ellipse cx="295.8" cy="278.8" rx="2.40" ry="1.30" transform="rotate(-68 295.8 278.8)" fill="#d2c14a" stroke="#6c6430" stroke-width="0.5"/>
<ellipse cx="302.0" cy="269.1" rx="2.40" ry="1.30" transform="rotate(-43 302.0 269.1)" fill="#ead95e" stroke="#6c6430" stroke-width="0.5"/>
<ellipse cx="353.9" cy="287.1" rx="1.55" ry="0.84" transform="rotate(75 353.9 287.1)" fill="#ead95e" stroke="#6c6430" stroke-width="0.5"/>
<ellipse cx="350.3" cy="304.5" rx="2.40" ry="1.30" transform="rotate(59 350.3 304.5)" fill="#e6d24c" stroke="#6c6430" stroke-width="0.5"/>
<ellipse cx="282.8" cy="312.6" rx="2.25" ry="1.22" transform="rotate(129 282.8 312.6)" fill="#d2c14a" stroke="#6c6430" stroke-width="0.5"/>
<ellipse cx="334.2" cy="300.0" rx="1.74" ry="0.94" transform="rotate(66 334.2 300.0)" fill="#e6d24c" stroke="#6c6430" stroke-width="0.5"/>
<ellipse cx="300.0" cy="262.6" rx="2.40" ry="1.30" transform="rotate(-41 300.0 262.6)" fill="#d4b23e" stroke="#6c6430" stroke-width="0.5"/>
<ellipse cx="340.5" cy="299.3" rx="2.40" ry="1.30" transform="rotate(58 340.5 299.3)" fill="#c8c44e" stroke="#6c6430" stroke-width="0.5"/>
<ellipse cx="316.5" cy="259.4" rx="2.40" ry="1.30" transform="rotate(44 316.5 259.4)" fill="#e6d24c" stroke="#6c6430" stroke-width="0.5"/>
<ellipse cx="281.6" cy="270.8" rx="2.40" ry="1.30" transform="rotate(135 281.6 270.8)" fill="#e6d24c" stroke="#6c6430" stroke-width="0.5"/>
<ellipse cx="338.9" cy="265.1" rx="2.40" ry="1.30" transform="rotate(8 338.9 265.1)" fill="#e6d24c" stroke="#6c6430" stroke-width="0.5"/>
<ellipse cx="336.8" cy="289.4" rx="2.40" ry="1.30" transform="rotate(113 336.8 289.4)" fill="#d2c14a" stroke="#6c6430" stroke-width="0.5"/>
<ellipse cx="351.6" cy="281.2" rx="1.89" ry="1.03" transform="rotate(11 351.6 281.2)" fill="#d4b23e" stroke="#6c6430" stroke-width="0.5"/>
<ellipse cx="334.3" cy="291.1" rx="2.40" ry="1.30" transform="rotate(56 334.3 291.1)" fill="#d4b23e" stroke="#6c6430" stroke-width="0.5"/>
<ellipse cx="347.8" cy="320.8" rx="1.32" ry="0.72" transform="rotate(58 347.8 320.8)" fill="#e6d24c" stroke="#6c6430" stroke-width="0.5"/>
<ellipse cx="348.7" cy="279.4" rx="1.74" ry="0.94" transform="rotate(19 348.7 279.4)" fill="#e6d24c" stroke="#6c6430" stroke-width="0.5"/>
<ellipse cx="290.8" cy="295.8" rx="2.40" ry="1.30" transform="rotate(70 290.8 295.8)" fill="#e6d24c" stroke="#6c6430" stroke-width="0.5"/>
<ellipse cx="293.5" cy="291.3" rx="2.40" ry="1.30" transform="rotate(142 293.5 291.3)" fill="#d4b23e" stroke="#6c6430" stroke-width="0.5"/>
<ellipse cx="306.5" cy="277.2" rx="2.40" ry="1.30" transform="rotate(24 306.5 277.2)" fill="#e6d24c" stroke="#6c6430" stroke-width="0.5"/>
<ellipse cx="323.7" cy="262.0" rx="2.40" ry="1.30" transform="rotate(44 323.7 262.0)" fill="#c8c44e" stroke="#6c6430" stroke-width="0.5"/>
<ellipse cx="293.3" cy="284.1" rx="2.40" ry="1.30" transform="rotate(85 293.3 284.1)" fill="#e6d24c" stroke="#6c6430" stroke-width="0.5"/>
<ellipse cx="330.1" cy="285.6" rx="2.40" ry="1.30" transform="rotate(90 330.1 285.6)" fill="#d4b23e" stroke="#6c6430" stroke-width="0.5"/>
<ellipse cx="292.3" cy="280.9" rx="2.40" ry="1.30" transform="rotate(-70 292.3 280.9)" fill="#d2c14a" stroke="#6c6430" stroke-width="0.5"/>
<ellipse cx="305.6" cy="265.2" rx="2.40" ry="1.30" transform="rotate(121 305.6 265.2)" fill="#e6d24c" stroke="#6c6430" stroke-width="0.5"/>
<ellipse cx="319.9" cy="260.5" rx="2.40" ry="1.30" transform="rotate(49 319.9 260.5)" fill="#e6d24c" stroke="#6c6430" stroke-width="0.5"/>
<ellipse cx="304.1" cy="261.7" rx="2.40" ry="1.30" transform="rotate(-52 304.1 261.7)" fill="#e6d24c" stroke="#6c6430" stroke-width="0.5"/>
<ellipse cx="280.5" cy="285.0" rx="2.40" ry="1.30" transform="rotate(57 280.5 285.0)" fill="#c8c44e" stroke="#6c6430" stroke-width="0.5"/>
<ellipse cx="297.2" cy="273.9" rx="2.40" ry="1.30" transform="rotate(7 297.2 273.9)" fill="#c8c44e" stroke="#6c6430" stroke-width="0.5"/>
<ellipse cx="348.6" cy="282.1" rx="1.60" ry="0.87" transform="rotate(70 348.6 282.1)" fill="#e6d24c" stroke="#6c6430" stroke-width="0.5"/>
<ellipse cx="291.9" cy="257.3" rx="2.40" ry="1.30" transform="rotate(181 291.9 257.3)" fill="#d4b23e" stroke="#6c6430" stroke-width="0.5"/>
<ellipse cx="302.6" cy="267.2" rx="2.40" ry="1.30" transform="rotate(104 302.6 267.2)" fill="#ead95e" stroke="#6c6430" stroke-width="0.5"/>
<ellipse cx="288.3" cy="317.7" rx="1.32" ry="0.72" transform="rotate(115 288.3 317.7)" fill="#d2c14a" stroke="#6c6430" stroke-width="0.5"/>
<ellipse cx="339.9" cy="274.1" rx="2.40" ry="1.30" transform="rotate(76 339.9 274.1)" fill="#e6d24c" stroke="#6c6430" stroke-width="0.5"/>
<ellipse cx="279.6" cy="293.4" rx="2.40" ry="1.30" transform="rotate(65 279.6 293.4)" fill="#d2c14a" stroke="#6c6430" stroke-width="0.5"/>
<ellipse cx="337.1" cy="270.2" rx="2.40" ry="1.30" transform="rotate(63 337.1 270.2)" fill="#d2c14a" stroke="#6c6430" stroke-width="0.5"/>
<ellipse cx="277.6" cy="286.8" rx="2.40" ry="1.30" transform="rotate(120 277.6 286.8)" fill="#e6d24c" stroke="#6c6430" stroke-width="0.5"/>
<ellipse cx="307.8" cy="274.1" rx="2.40" ry="1.30" transform="rotate(-37 307.8 274.1)" fill="#e6d24c" stroke="#6c6430" stroke-width="0.5"/>
<ellipse cx="342.4" cy="284.4" rx="1.32" ry="0.72" transform="rotate(24 342.4 284.4)" fill="#d4b23e" stroke="#6c6430" stroke-width="0.5"/>
<ellipse cx="289.1" cy="279.1" rx="2.40" ry="1.30" transform="rotate(73 289.1 279.1)" fill="#ead95e" stroke="#6c6430" stroke-width="0.5"/>
<ellipse cx="286.9" cy="264.1" rx="2.40" ry="1.30" transform="rotate(-17 286.9 264.1)" fill="#ead95e" stroke="#6c6430" stroke-width="0.5"/>
<ellipse cx="340.1" cy="272.7" rx="2.40" ry="1.30" transform="rotate(81 340.1 272.7)" fill="#d4b23e" stroke="#6c6430" stroke-width="0.5"/>
<ellipse cx="291.5" cy="291.7" rx="2.40" ry="1.30" transform="rotate(60 291.5 291.7)" fill="#c8c44e" stroke="#6c6430" stroke-width="0.5"/>
<ellipse cx="308.8" cy="270.0" rx="2.40" ry="1.30" transform="rotate(121 308.8 270.0)" fill="#e6d24c" stroke="#6c6430" stroke-width="0.5"/>
<ellipse cx="278.6" cy="323.7" rx="1.60" ry="0.87" transform="rotate(124 278.6 323.7)" fill="#e6d24c" stroke="#6c6430" stroke-width="0.5"/>
<ellipse cx="311.8" cy="273.3" rx="2.40" ry="1.30" transform="rotate(-50 311.8 273.3)" fill="#e6d24c" stroke="#6c6430" stroke-width="0.5"/>
<ellipse cx="324.9" cy="263.0" rx="2.40" ry="1.30" transform="rotate(-9 324.9 263.0)" fill="#c8c44e" stroke="#6c6430" stroke-width="0.5"/>
<ellipse cx="302.7" cy="255.6" rx="2.40" ry="1.30" transform="rotate(-34 302.7 255.6)" fill="#e6d24c" stroke="#6c6430" stroke-width="0.5"/>
<ellipse cx="315.0" cy="256.4" rx="2.40" ry="1.30" transform="rotate(-14 315.0 256.4)" fill="#e6d24c" stroke="#6c6430" stroke-width="0.5"/>
<ellipse cx="296.1" cy="283.4" rx="2.40" ry="1.30" transform="rotate(153 296.1 283.4)" fill="#ead95e" stroke="#6c6430" stroke-width="0.5"/>
<ellipse cx="328.4" cy="281.9" rx="2.40" ry="1.30" transform="rotate(92 328.4 281.9)" fill="#e6d24c" stroke="#6c6430" stroke-width="0.5"/>
<ellipse cx="297.0" cy="259.2" rx="2.40" ry="1.30" transform="rotate(24 297.0 259.2)" fill="#c8c44e" stroke="#6c6430" stroke-width="0.5"/>
<ellipse cx="327.2" cy="268.1" rx="2.40" ry="1.30" transform="rotate(-15 327.2 268.1)" fill="#e6d24c" stroke="#6c6430" stroke-width="0.5"/>
<ellipse cx="278.0" cy="269.2" rx="2.40" ry="1.30" transform="rotate(-77 278.0 269.2)" fill="#ead95e" stroke="#6c6430" stroke-width="0.5"/>
<ellipse cx="290.1" cy="303.8" rx="2.40" ry="1.30" transform="rotate(57 290.1 303.8)" fill="#d2c14a" stroke="#6c6430" stroke-width="0.5"/>
<ellipse cx="325.9" cy="266.1" rx="2.40" ry="1.30" transform="rotate(60 325.9 266.1)" fill="#ead95e" stroke="#6c6430" stroke-width="0.5"/>
<ellipse cx="299.4" cy="266.7" rx="2.40" ry="1.30" transform="rotate(173 299.4 266.7)" fill="#d4b23e" stroke="#6c6430" stroke-width="0.5"/>
<ellipse cx="350.1" cy="291.8" rx="2.40" ry="1.30" transform="rotate(56 350.1 291.8)" fill="#e6d24c" stroke="#6c6430" stroke-width="0.5"/>
<ellipse cx="320.4" cy="272.8" rx="2.40" ry="1.30" transform="rotate(-15 320.4 272.8)" fill="#d2c14a" stroke="#6c6430" stroke-width="0.5"/>
<ellipse cx="295.4" cy="282.1" rx="2.40" ry="1.30" transform="rotate(-12 295.4 282.1)" fill="#e6d24c" stroke="#6c6430" stroke-width="0.5"/>
<ellipse cx="288.5" cy="260.0" rx="2.40" ry="1.30" transform="rotate(172 288.5 260.0)" fill="#e6d24c" stroke="#6c6430" stroke-width="0.5"/>
<ellipse cx="287.4" cy="305.5" rx="2.40" ry="1.30" transform="rotate(127 287.4 305.5)" fill="#e6d24c" stroke="#6c6430" stroke-width="0.5"/>
<ellipse cx="290.9" cy="268.8" rx="2.40" ry="1.30" transform="rotate(147 290.9 268.8)" fill="#e6d24c" stroke="#6c6430" stroke-width="0.5"/>
<ellipse cx="322.3" cy="265.0" rx="2.40" ry="1.30" transform="rotate(50 322.3 265.0)" fill="#d2c14a" stroke="#6c6430" stroke-width="0.5"/>
<ellipse cx="319.0" cy="257.4" rx="2.40" ry="1.30" transform="rotate(-10 319.0 257.4)" fill="#d4b23e" stroke="#6c6430" stroke-width="0.5"/>
<ellipse cx="326.6" cy="260.4" rx="2.40" ry="1.30" transform="rotate(6 326.6 260.4)" fill="#e6d24c" stroke="#6c6430" stroke-width="0.5"/>
<ellipse cx="283.8" cy="266.6" rx="2.40" ry="1.30" transform="rotate(-22 283.8 266.6)" fill="#e6d24c" stroke="#6c6430" stroke-width="0.5"/>
<ellipse cx="318.6" cy="266.7" rx="2.40" ry="1.30" transform="rotate(-36 318.6 266.7)" fill="#ead95e" stroke="#6c6430" stroke-width="0.5"/>
<ellipse cx="294.9" cy="258.5" rx="2.40" ry="1.30" transform="rotate(134 294.9 258.5)" fill="#d2c14a" stroke="#6c6430" stroke-width="0.5"/>
<ellipse cx="290.4" cy="299.8" rx="2.40" ry="1.30" transform="rotate(67 290.4 299.8)" fill="#d2c14a" stroke="#6c6430" stroke-width="0.5"/>
<ellipse cx="338.9" cy="287.0" rx="2.40" ry="1.30" transform="rotate(59 338.9 287.0)" fill="#d2c14a" stroke="#6c6430" stroke-width="0.5"/>
<ellipse cx="276.9" cy="295.1" rx="2.40" ry="1.30" transform="rotate(126 276.9 295.1)" fill="#e6d24c" stroke="#6c6430" stroke-width="0.5"/>
<ellipse cx="331.3" cy="289.6" rx="2.40" ry="1.30" transform="rotate(109 331.3 289.6)" fill="#c8c44e" stroke="#6c6430" stroke-width="0.5"/>
<ellipse cx="328.2" cy="271.2" rx="2.40" ry="1.30" transform="rotate(59 328.2 271.2)" fill="#e6d24c" stroke="#6c6430" stroke-width="0.5"/>
<ellipse cx="295.5" cy="293.9" rx="2.40" ry="1.30" transform="rotate(74 295.5 293.9)" fill="#ead95e" stroke="#6c6430" stroke-width="0.5"/>
<ellipse cx="356.4" cy="287.8" rx="1.43" ry="0.78" transform="rotate(13 356.4 287.8)" fill="#d4b23e" stroke="#6c6430" stroke-width="0.5"/>
<ellipse cx="294.6" cy="298.0" rx="2.40" ry="1.30" transform="rotate(77 294.6 298.0)" fill="#d2c14a" stroke="#6c6430" stroke-width="0.5"/>
<ellipse cx="297.8" cy="273.3" rx="2.40" ry="1.30" transform="rotate(95 297.8 273.3)" fill="#e6d24c" stroke="#6c6430" stroke-width="0.5"/>
<ellipse cx="346.0" cy="279.3" rx="1.87" ry="1.02" transform="rotate(68 346.0 279.3)" fill="#d4b23e" stroke="#6c6430" stroke-width="0.5"/>
<ellipse cx="285.3" cy="318.6" rx="1.78" ry="0.97" transform="rotate(46 285.3 318.6)" fill="#d2c14a" stroke="#6c6430" stroke-width="0.5"/>
<ellipse cx="322.3" cy="275.6" rx="2.40" ry="1.30" transform="rotate(37 322.3 275.6)" fill="#e6d24c" stroke="#6c6430" stroke-width="0.5"/>
<ellipse cx="342.8" cy="274.7" rx="2.40" ry="1.30" transform="rotate(96 342.8 274.7)" fill="#e6d24c" stroke="#6c6430" stroke-width="0.5"/>
<ellipse cx="287.5" cy="309.7" rx="2.06" ry="1.12" transform="rotate(128 287.5 309.7)" fill="#ead95e" stroke="#6c6430" stroke-width="0.5"/>
<ellipse cx="338.8" cy="276.5" rx="2.16" ry="1.17" transform="rotate(61 338.8 276.5)" fill="#d4b23e" stroke="#6c6430" stroke-width="0.5"/>
<ellipse cx="347.2" cy="310.4" rx="2.28" ry="1.24" transform="rotate(137 347.2 310.4)" fill="#e6d24c" stroke="#6c6430" stroke-width="0.5"/>
<ellipse cx="349.4" cy="312.7" rx="2.09" ry="1.13" transform="rotate(74 349.4 312.7)" fill="#e6d24c" stroke="#6c6430" stroke-width="0.5"/>
<ellipse cx="287.6" cy="301.6" rx="2.40" ry="1.30" transform="rotate(119 287.6 301.6)" fill="#ead95e" stroke="#6c6430" stroke-width="0.5"/>
<ellipse cx="324.4" cy="270.1" rx="2.40" ry="1.30" transform="rotate(38 324.4 270.1)" fill="#d4b23e" stroke="#6c6430" stroke-width="0.5"/>
<ellipse cx="348.8" cy="283.6" rx="2.40" ry="1.30" transform="rotate(39 348.8 283.6)" fill="#d2c14a" stroke="#6c6430" stroke-width="0.5"/>
<ellipse cx="314.4" cy="263.7" rx="2.40" ry="1.30" transform="rotate(44 314.4 263.7)" fill="#d2c14a" stroke="#6c6430" stroke-width="0.5"/>
<ellipse cx="336.0" cy="285.6" rx="2.40" ry="1.30" transform="rotate(99 336.0 285.6)" fill="#e6d24c" stroke="#6c6430" stroke-width="0.5"/>
<ellipse cx="290.2" cy="285.2" rx="2.40" ry="1.30" transform="rotate(125 290.2 285.2)" fill="#e6d24c" stroke="#6c6430" stroke-width="0.5"/>
<ellipse cx="337.4" cy="293.4" rx="2.40" ry="1.30" transform="rotate(112 337.4 293.4)" fill="#ead95e" stroke="#6c6430" stroke-width="0.5"/>
<ellipse cx="293.0" cy="305.9" rx="1.58" ry="0.85" transform="rotate(58 293.0 305.9)" fill="#c8c44e" stroke="#6c6430" stroke-width="0.5"/>
<ellipse cx="333.8" cy="264.6" rx="2.40" ry="1.30" transform="rotate(7 333.8 264.6)" fill="#d4b23e" stroke="#6c6430" stroke-width="0.5"/>
<ellipse cx="279.1" cy="278.6" rx="2.40" ry="1.30" transform="rotate(125 279.1 278.6)" fill="#d4b23e" stroke="#6c6430" stroke-width="0.5"/>
<ellipse cx="324.7" cy="273.3" rx="2.40" ry="1.30" transform="rotate(-28 324.7 273.3)" fill="#d4b23e" stroke="#6c6430" stroke-width="0.5"/>
<ellipse cx="282.8" cy="300.4" rx="2.40" ry="1.30" transform="rotate(113 282.8 300.4)" fill="#d4b23e" stroke="#6c6430" stroke-width="0.5"/>
<ellipse cx="350.0" cy="308.7" rx="2.40" ry="1.30" transform="rotate(64 350.0 308.7)" fill="#c8c44e" stroke="#6c6430" stroke-width="0.5"/>
<ellipse cx="288.5" cy="293.5" rx="2.40" ry="1.30" transform="rotate(135 288.5 293.5)" fill="#d2c14a" stroke="#6c6430" stroke-width="0.5"/>
<ellipse cx="283.1" cy="296.2" rx="2.40" ry="1.30" transform="rotate(130 283.1 296.2)" fill="#ead95e" stroke="#6c6430" stroke-width="0.5"/>
<ellipse cx="329.9" cy="267.8" rx="2.40" ry="1.30" transform="rotate(64 329.9 267.8)" fill="#e6d24c" stroke="#6c6430" stroke-width="0.5"/>
<ellipse cx="312.3" cy="261.0" rx="2.40" ry="1.30" transform="rotate(-28 312.3 261.0)" fill="#d2c14a" stroke="#6c6430" stroke-width="0.5"/>
<ellipse cx="340.8" cy="307.5" rx="2.40" ry="1.30" transform="rotate(60 340.8 307.5)" fill="#ead95e" stroke="#6c6430" stroke-width="0.5"/>
<ellipse cx="289.3" cy="289.3" rx="2.40" ry="1.30" transform="rotate(140 289.3 289.3)" fill="#e6d24c" stroke="#6c6430" stroke-width="0.5"/>
<ellipse cx="339.7" cy="281.1" rx="1.74" ry="0.94" transform="rotate(12 339.7 281.1)" fill="#c8c44e" stroke="#6c6430" stroke-width="0.5"/>
<ellipse cx="304.8" cy="258.1" rx="2.40" ry="1.30" transform="rotate(19 304.8 258.1)" fill="#d4b23e" stroke="#6c6430" stroke-width="0.5"/>
<ellipse cx="302.7" cy="263.8" rx="2.40" ry="1.30" transform="rotate(165 302.7 263.8)" fill="#ead95e" stroke="#6c6430" stroke-width="0.5"/>
<ellipse cx="351.1" cy="282.5" rx="1.46" ry="0.79" transform="rotate(16 351.1 282.5)" fill="#e6d24c" stroke="#6c6430" stroke-width="0.5"/>
<ellipse cx="345.8" cy="276.2" rx="2.01" ry="1.09" transform="rotate(26 345.8 276.2)" fill="#d4b23e" stroke="#6c6430" stroke-width="0.5"/>
<ellipse cx="349.6" cy="287.8" rx="2.40" ry="1.30" transform="rotate(60 349.6 287.8)" fill="#c8c44e" stroke="#6c6430" stroke-width="0.5"/>
<ellipse cx="287.3" cy="276.4" rx="2.40" ry="1.30" transform="rotate(147 287.3 276.4)" fill="#c8c44e" stroke="#6c6430" stroke-width="0.5"/>
<ellipse cx="285.0" cy="284.2" rx="2.40" ry="1.30" transform="rotate(136 285.0 284.2)" fill="#e6d24c" stroke="#6c6430" stroke-width="0.5"/>
<ellipse cx="344.8" cy="279.1" rx="1.66" ry="0.90" transform="rotate(28 344.8 279.1)" fill="#c8c44e" stroke="#6c6430" stroke-width="0.5"/>
<ellipse cx="289.9" cy="307.6" rx="2.25" ry="1.22" transform="rotate(64 289.9 307.6)" fill="#d4b23e" stroke="#6c6430" stroke-width="0.5"/>
<ellipse cx="292.2" cy="287.9" rx="2.40" ry="1.30" transform="rotate(73 292.2 287.9)" fill="#d4b23e" stroke="#6c6430" stroke-width="0.5"/>
<ellipse cx="288.6" cy="267.9" rx="2.40" ry="1.30" transform="rotate(-68 288.6 267.9)" fill="#d4b23e" stroke="#6c6430" stroke-width="0.5"/>
<ellipse cx="291.7" cy="299.5" rx="2.35" ry="1.27" transform="rotate(124 291.7 299.5)" fill="#e6d24c" stroke="#6c6430" stroke-width="0.5"/>
<ellipse cx="285.8" cy="294.8" rx="2.40" ry="1.30" transform="rotate(69 285.8 294.8)" fill="#d2c14a" stroke="#6c6430" stroke-width="0.5"/>
<ellipse cx="312.4" cy="258.6" rx="2.40" ry="1.30" transform="rotate(37 312.4 258.6)" fill="#d4b23e" stroke="#6c6430" stroke-width="0.5"/>
<ellipse cx="336.9" cy="281.3" rx="1.94" ry="1.05" transform="rotate(64 336.9 281.3)" fill="#d2c14a" stroke="#6c6430" stroke-width="0.5"/>
<ellipse cx="320.5" cy="269.5" rx="2.40" ry="1.30" transform="rotate(45 320.5 269.5)" fill="#e6d24c" stroke="#6c6430" stroke-width="0.5"/>
<ellipse cx="286.0" cy="280.3" rx="2.40" ry="1.30" transform="rotate(147 286.0 280.3)" fill="#e6d24c" stroke="#6c6430" stroke-width="0.5"/>
<ellipse cx="280.2" cy="274.5" rx="2.40" ry="1.30" transform="rotate(144 280.2 274.5)" fill="#e6d24c" stroke="#6c6430" stroke-width="0.5"/>
<ellipse cx="356.0" cy="289.8" rx="1.32" ry="0.72" transform="rotate(87 356.0 289.8)" fill="#e6d24c" stroke="#6c6430" stroke-width="0.5"/>
<ellipse cx="305.5" cy="269.3" rx="2.40" ry="1.30" transform="rotate(163 305.5 269.3)" fill="#e6d24c" stroke="#6c6430" stroke-width="0.5"/>
<ellipse cx="290.3" cy="278.0" rx="2.40" ry="1.30" transform="rotate(1 290.3 278.0)" fill="#e6d24c" stroke="#6c6430" stroke-width="0.5"/>
<ellipse cx="342.9" cy="273.3" rx="2.29" ry="1.24" transform="rotate(2 342.9 273.3)" fill="#ead95e" stroke="#6c6430" stroke-width="0.5"/>
<ellipse cx="346.1" cy="275.7" rx="2.40" ry="1.30" transform="rotate(24 346.1 275.7)" fill="#ead95e" stroke="#6c6430" stroke-width="0.5"/>
<ellipse cx="279.3" cy="301.2" rx="2.40" ry="1.30" transform="rotate(55 279.3 301.2)" fill="#e6d24c" stroke="#6c6430" stroke-width="0.5"/>
<ellipse cx="335.0" cy="274.9" rx="2.40" ry="1.30" transform="rotate(32 335.0 274.9)" fill="#e6d24c" stroke="#6c6430" stroke-width="0.5"/>
<ellipse cx="342.0" cy="279.0" rx="1.83" ry="0.99" transform="rotate(79 342.0 279.0)" fill="#d4b23e" stroke="#6c6430" stroke-width="0.5"/>
<ellipse cx="338.1" cy="305.5" rx="2.40" ry="1.30" transform="rotate(109 338.1 305.5)" fill="#c8c44e" stroke="#6c6430" stroke-width="0.5"/>
<ellipse cx="292.5" cy="295.3" rx="2.40" ry="1.30" transform="rotate(127 292.5 295.3)" fill="#d4b23e" stroke="#6c6430" stroke-width="0.5"/>
<ellipse cx="290.8" cy="258.8" rx="2.40" ry="1.30" transform="rotate(-62 290.8 258.8)" fill="#d2c14a" stroke="#6c6430" stroke-width="0.5"/>
<ellipse cx="338.3" cy="317.9" rx="1.55" ry="0.84" transform="rotate(121 338.3 317.9)" fill="#e6d24c" stroke="#6c6430" stroke-width="0.5"/>
<ellipse cx="351.3" cy="284.0" rx="1.78" ry="0.96" transform="rotate(92 351.3 284.0)" fill="#e6d24c" stroke="#6c6430" stroke-width="0.5"/>
<ellipse cx="320.7" cy="261.9" rx="2.40" ry="1.30" transform="rotate(-19 320.7 261.9)" fill="#d4b23e" stroke="#6c6430" stroke-width="0.5"/>
<ellipse cx="283.3" cy="273.7" rx="2.40" ry="1.30" transform="rotate(72 283.3 273.7)" fill="#c8c44e" stroke="#6c6430" stroke-width="0.5"/>
<ellipse cx="297.9" cy="279.4" rx="2.40" ry="1.30" transform="rotate(138 297.9 279.4)" fill="#e6d24c" stroke="#6c6430" stroke-width="0.5"/>
<ellipse cx="340.6" cy="311.8" rx="2.22" ry="1.20" transform="rotate(65 340.6 311.8)" fill="#ead95e" stroke="#6c6430" stroke-width="0.5"/>
<ellipse cx="300.0" cy="275.8" rx="2.40" ry="1.30" transform="rotate(157 300.0 275.8)" fill="#e6d24c" stroke="#6c6430" stroke-width="0.5"/>
<ellipse cx="323.0" cy="258.9" rx="2.40" ry="1.30" transform="rotate(3 323.0 258.9)" fill="#d4b23e" stroke="#6c6430" stroke-width="0.5"/>
<ellipse cx="336.6" cy="278.2" rx="2.15" ry="1.17" transform="rotate(13 336.6 278.2)" fill="#d2c14a" stroke="#6c6430" stroke-width="0.5"/>
<ellipse cx="286.4" cy="290.6" rx="2.40" ry="1.30" transform="rotate(73 286.4 290.6)" fill="#e6d24c" stroke="#6c6430" stroke-width="0.5"/>
<ellipse cx="322.8" cy="267.2" rx="2.40" ry="1.30" transform="rotate(-33 322.8 267.2)" fill="#e6d24c" stroke="#6c6430" stroke-width="0.5"/>
<ellipse cx="332.3" cy="297.7" rx="2.15" ry="1.17" transform="rotate(124 332.3 297.7)" fill="#ead95e" stroke="#6c6430" stroke-width="0.5"/>
<ellipse cx="296.8" cy="270.0" rx="2.40" ry="1.30" transform="rotate(153 296.8 270.0)" fill="#ead95e" stroke="#6c6430" stroke-width="0.5"/>
<ellipse cx="292.8" cy="277.4" rx="2.40" ry="1.30" transform="rotate(133 292.8 277.4)" fill="#c8c44e" stroke="#6c6430" stroke-width="0.5"/>
<ellipse cx="279.5" cy="309.2" rx="2.40" ry="1.30" transform="rotate(59 279.5 309.2)" fill="#d4b23e" stroke="#6c6430" stroke-width="0.5"/>
<ellipse cx="302.5" cy="272.4" rx="2.40" ry="1.30" transform="rotate(158 302.5 272.4)" fill="#c8c44e" stroke="#6c6430" stroke-width="0.5"/>
<ellipse cx="333.4" cy="269.6" rx="2.40" ry="1.30" transform="rotate(68 333.4 269.6)" fill="#e6d24c" stroke="#6c6430" stroke-width="0.5"/>
<ellipse cx="298.0" cy="270.6" rx="2.40" ry="1.30" transform="rotate(-42 298.0 270.6)" fill="#d2c14a" stroke="#6c6430" stroke-width="0.5"/>
<ellipse cx="310.3" cy="267.1" rx="2.40" ry="1.30" transform="rotate(-45 310.3 267.1)" fill="#d4b23e" stroke="#6c6430" stroke-width="0.5"/>
<ellipse cx="346.9" cy="314.7" rx="1.90" ry="1.03" transform="rotate(123 346.9 314.7)" fill="#d2c14a" stroke="#6c6430" stroke-width="0.5"/>
<ellipse cx="291.4" cy="281.3" rx="2.40" ry="1.30" transform="rotate(141 291.4 281.3)" fill="#ead95e" stroke="#6c6430" stroke-width="0.5"/>
<ellipse cx="347.5" cy="306.5" rx="2.40" ry="1.30" transform="rotate(129 347.5 306.5)" fill="#d2c14a" stroke="#6c6430" stroke-width="0.5"/>
<ellipse cx="292.1" cy="271.8" rx="2.40" ry="1.30" transform="rotate(97 292.1 271.8)" fill="#e6d24c" stroke="#6c6430" stroke-width="0.5"/>
<ellipse cx="318.3" cy="275.3" rx="2.40" ry="1.30" transform="rotate(36 318.3 275.3)" fill="#e6d24c" stroke="#6c6430" stroke-width="0.5"/>
<ellipse cx="294.6" cy="273.6" rx="2.40" ry="1.30" transform="rotate(147 294.6 273.6)" fill="#e6d24c" stroke="#6c6430" stroke-width="0.5"/>
<ellipse cx="288.9" cy="263.3" rx="2.40" ry="1.30" transform="rotate(104 288.9 263.3)" fill="#e6d24c" stroke="#6c6430" stroke-width="0.5"/>
<ellipse cx="295.1" cy="267.3" rx="2.40" ry="1.30" transform="rotate(14 295.1 267.3)" fill="#e6d24c" stroke="#6c6430" stroke-width="0.5"/>
<ellipse cx="348.7" cy="281.1" rx="2.01" ry="1.09" transform="rotate(71 348.7 281.1)" fill="#e6d24c" stroke="#6c6430" stroke-width="0.5"/>
<ellipse cx="287.8" cy="313.9" rx="1.69" ry="0.92" transform="rotate(113 287.8 313.9)" fill="#e6d24c" stroke="#6c6430" stroke-width="0.5"/>
<ellipse cx="298.7" cy="265.8" rx="2.40" ry="1.30" transform="rotate(6 298.7 265.8)" fill="#d4b23e" stroke="#6c6430" stroke-width="0.5"/>
<ellipse cx="285.3" cy="302.7" rx="2.40" ry="1.30" transform="rotate(63 285.3 302.7)" fill="#ead95e" stroke="#6c6430" stroke-width="0.5"/>
<ellipse cx="338.1" cy="309.7" rx="2.40" ry="1.30" transform="rotate(110 338.1 309.7)" fill="#e6d24c" stroke="#6c6430" stroke-width="0.5"/>
<ellipse cx="333.6" cy="279.3" rx="2.36" ry="1.28" transform="rotate(58 333.6 279.3)" fill="#d2c14a" stroke="#6c6430" stroke-width="0.5"/>
<ellipse cx="296.5" cy="290.0" rx="2.40" ry="1.30" transform="rotate(74 296.5 290.0)" fill="#d4b23e" stroke="#6c6430" stroke-width="0.5"/>
<ellipse cx="286.7" cy="266.4" rx="2.40" ry="1.30" transform="rotate(101 286.7 266.4)" fill="#ead95e" stroke="#6c6430" stroke-width="0.5"/>
<ellipse cx="283.5" cy="263.4" rx="2.40" ry="1.30" transform="rotate(-70 283.5 263.4)" fill="#d4b23e" stroke="#6c6430" stroke-width="0.5"/>
<ellipse cx="300.9" cy="272.2" rx="2.40" ry="1.30" transform="rotate(19 300.9 272.2)" fill="#e6d24c" stroke="#6c6430" stroke-width="0.5"/>
<ellipse cx="292.3" cy="265.8" rx="2.40" ry="1.30" transform="rotate(-54 292.3 265.8)" fill="#d4b23e" stroke="#6c6430" stroke-width="0.5"/>
<ellipse cx="347.8" cy="298.2" rx="2.40" ry="1.30" transform="rotate(113 347.8 298.2)" fill="#ead95e" stroke="#6c6430" stroke-width="0.5"/>
<ellipse cx="276.7" cy="299.2" rx="2.40" ry="1.30" transform="rotate(114 276.7 299.2)" fill="#ead95e" stroke="#6c6430" stroke-width="0.5"/>
<ellipse cx="285.5" cy="298.5" rx="2.40" ry="1.30" transform="rotate(56 285.5 298.5)" fill="#e6d24c" stroke="#6c6430" stroke-width="0.5"/>
<ellipse cx="344.1" cy="271.7" rx="2.40" ry="1.30" transform="rotate(29 344.1 271.7)" fill="#ead95e" stroke="#6c6430" stroke-width="0.5"/>
<ellipse cx="346.5" cy="318.8" rx="1.51" ry="0.82" transform="rotate(118 346.5 318.8)" fill="#d2c14a" stroke="#6c6430" stroke-width="0.5"/>
<ellipse cx="338.4" cy="268.3" rx="2.40" ry="1.30" transform="rotate(76 338.4 268.3)" fill="#e6d24c" stroke="#6c6430" stroke-width="0.5"/>
<ellipse cx="279.7" cy="313.2" rx="2.29" ry="1.24" transform="rotate(45 279.7 313.2)" fill="#e6d24c" stroke="#6c6430" stroke-width="0.5"/>
<ellipse cx="278.2" cy="282.9" rx="2.40" ry="1.30" transform="rotate(118 278.2 282.9)" fill="#c8c44e" stroke="#6c6430" stroke-width="0.5"/>
<ellipse cx="331.8" cy="274.2" rx="2.40" ry="1.30" transform="rotate(89 331.8 274.2)" fill="#d2c14a" stroke="#6c6430" stroke-width="0.5"/>
<ellipse cx="343.1" cy="275.4" rx="2.40" ry="1.30" transform="rotate(86 343.1 275.4)" fill="#ead95e" stroke="#6c6430" stroke-width="0.5"/>
<ellipse cx="302.6" cy="278.5" rx="2.40" ry="1.30" transform="rotate(7 302.6 278.5)" fill="#ead95e" stroke="#6c6430" stroke-width="0.5"/>
<ellipse cx="331.7" cy="282.6" rx="2.40" ry="1.30" transform="rotate(45 331.7 282.6)" fill="#c8c44e" stroke="#6c6430" stroke-width="0.5"/>
<ellipse cx="285.2" cy="314.8" rx="2.09" ry="1.13" transform="rotate(46 285.2 314.8)" fill="#ead95e" stroke="#6c6430" stroke-width="0.5"/>
<ellipse cx="294.5" cy="280.2" rx="2.40" ry="1.30" transform="rotate(92 294.5 280.2)" fill="#e6d24c" stroke="#6c6430" stroke-width="0.5"/>
<ellipse cx="330.2" cy="262.3" rx="2.40" ry="1.30" transform="rotate(2 330.2 262.3)" fill="#d4b23e" stroke="#6c6430" stroke-width="0.5"/>
<ellipse cx="277.5" cy="315.7" rx="2.15" ry="1.17" transform="rotate(123 277.5 315.7)" fill="#ead95e" stroke="#6c6430" stroke-width="0.5"/>
<ellipse cx="343.1" cy="271.9" rx="2.40" ry="1.30" transform="rotate(15 343.1 271.9)" fill="#d2c14a" stroke="#6c6430" stroke-width="0.5"/>
<ellipse cx="327.0" cy="275.2" rx="2.40" ry="1.30" transform="rotate(32 327.0 275.2)" fill="#e6d24c" stroke="#6c6430" stroke-width="0.5"/>
<ellipse cx="346.6" cy="286.0" rx="2.40" ry="1.30" transform="rotate(101 346.6 286.0)" fill="#e6d24c" stroke="#6c6430" stroke-width="0.5"/>
<ellipse cx="318.4" cy="264.1" rx="2.40" ry="1.30" transform="rotate(38 318.4 264.1)" fill="#c8c44e" stroke="#6c6430" stroke-width="0.5"/>
<ellipse cx="287.9" cy="283.0" rx="2.40" ry="1.30" transform="rotate(67 287.9 283.0)" fill="#d4b23e" stroke="#6c6430" stroke-width="0.5"/>
<ellipse cx="293.6" cy="260.4" rx="2.40" ry="1.30" transform="rotate(18 293.6 260.4)" fill="#e6d24c" stroke="#6c6430" stroke-width="0.5"/>
<ellipse cx="290.6" cy="274.6" rx="2.40" ry="1.30" transform="rotate(-50 290.6 274.6)" fill="#d2c14a" stroke="#6c6430" stroke-width="0.5"/>
<ellipse cx="340.2" cy="295.1" rx="2.40" ry="1.30" transform="rotate(61 340.2 295.1)" fill="#ead95e" stroke="#6c6430" stroke-width="0.5"/>
<ellipse cx="283.4" cy="266.9" rx="2.40" ry="1.30" transform="rotate(149 283.4 266.9)" fill="#d4b23e" stroke="#6c6430" stroke-width="0.5"/>
<ellipse cx="283.6" cy="320.7" rx="1.63" ry="0.88" transform="rotate(116 283.6 320.7)" fill="#e6d24c" stroke="#6c6430" stroke-width="0.5"/>
<ellipse cx="306.0" cy="268.0" rx="2.40" ry="1.30" transform="rotate(-51 306.0 268.0)" fill="#c8c44e" stroke="#6c6430" stroke-width="0.5"/>
<ellipse cx="282.1" cy="277.4" rx="2.40" ry="1.30" transform="rotate(81 282.1 277.4)" fill="#e6d24c" stroke="#6c6430" stroke-width="0.5"/>
<ellipse cx="350.4" cy="300.3" rx="2.40" ry="1.30" transform="rotate(70 350.4 300.3)" fill="#e6d24c" stroke="#6c6430" stroke-width="0.5"/>
<ellipse cx="326.2" cy="278.4" rx="2.40" ry="1.30" transform="rotate(77 326.2 278.4)" fill="#d4b23e" stroke="#6c6430" stroke-width="0.5"/>
<ellipse cx="339.7" cy="291.0" rx="2.40" ry="1.30" transform="rotate(63 339.7 291.0)" fill="#e6d24c" stroke="#6c6430" stroke-width="0.5"/>
<ellipse cx="298.3" cy="257.3" rx="2.40" ry="1.30" transform="rotate(139 298.3 257.3)" fill="#d2c14a" stroke="#6c6430" stroke-width="0.5"/>
<ellipse cx="347.6" cy="279.4" rx="2.40" ry="1.30" transform="rotate(52 347.6 279.4)" fill="#e6d24c" stroke="#6c6430" stroke-width="0.5"/>
<ellipse cx="316.5" cy="261.2" rx="2.40" ry="1.30" transform="rotate(-22 316.5 261.2)" fill="#e6d24c" stroke="#6c6430" stroke-width="0.5"/>
<ellipse cx="329.6" cy="278.8" rx="2.40" ry="1.30" transform="rotate(31 329.6 278.8)" fill="#e6d24c" stroke="#6c6430" stroke-width="0.5"/>
<ellipse cx="351.1" cy="285.0" rx="1.32" ry="0.72" transform="rotate(90 351.1 285.0)" fill="#d2c14a" stroke="#6c6430" stroke-width="0.5"/>
<ellipse cx="280.1" cy="321.6" rx="1.74" ry="0.94" transform="rotate(46 280.1 321.6)" fill="#e6d24c" stroke="#6c6430" stroke-width="0.5"/>
<ellipse cx="290.5" cy="275.3" rx="2.40" ry="1.30" transform="rotate(85 290.5 275.3)" fill="#c8c44e" stroke="#6c6430" stroke-width="0.5"/>
<ellipse cx="310.5" cy="263.6" rx="2.40" ry="1.30" transform="rotate(17 310.5 263.6)" fill="#e6d24c" stroke="#6c6430" stroke-width="0.5"/>
<ellipse cx="311.1" cy="255.7" rx="2.40" ry="1.30" transform="rotate(-15 311.1 255.7)" fill="#ead95e" stroke="#6c6430" stroke-width="0.5"/>
<ellipse cx="289.7" cy="311.7" rx="1.88" ry="1.02" transform="rotate(60 289.7 311.7)" fill="#e6d24c" stroke="#6c6430" stroke-width="0.5"/>
<ellipse cx="279.4" cy="297.2" rx="2.40" ry="1.30" transform="rotate(72 279.4 297.2)" fill="#d2c14a" stroke="#6c6430" stroke-width="0.5"/>
<ellipse cx="291.3" cy="307.7" rx="1.32" ry="0.72" transform="rotate(129 291.3 307.7)" fill="#d2c14a" stroke="#6c6430" stroke-width="0.5"/>
<ellipse cx="298.7" cy="280.3" rx="2.40" ry="1.30" transform="rotate(-7 298.7 280.3)" fill="#c8c44e" stroke="#6c6430" stroke-width="0.5"/>
<ellipse cx="277.0" cy="311.7" rx="2.40" ry="1.30" transform="rotate(121 277.0 311.7)" fill="#e6d24c" stroke="#6c6430" stroke-width="0.5"/>
<ellipse cx="301.0" cy="258.4" rx="2.40" ry="1.30" transform="rotate(23 301.0 258.4)" fill="#e6d24c" stroke="#6c6430" stroke-width="0.5"/>
<ellipse cx="338.3" cy="313.6" rx="2.00" ry="1.08" transform="rotate(120 338.3 313.6)" fill="#e6d24c" stroke="#6c6430" stroke-width="0.5"/>
<ellipse cx="347.8" cy="302.4" rx="2.40" ry="1.30" transform="rotate(132 347.8 302.4)" fill="#e6d24c" stroke="#6c6430" stroke-width="0.5"/>
<ellipse cx="293.5" cy="275.8" rx="2.40" ry="1.30" transform="rotate(-1 293.5 275.8)" fill="#e6d24c" stroke="#6c6430" stroke-width="0.5"/>
<ellipse cx="296.2" cy="262.2" rx="2.40" ry="1.30" transform="rotate(157 296.2 262.2)" fill="#e6d24c" stroke="#6c6430" stroke-width="0.5"/>
<ellipse cx="291.4" cy="303.6" rx="1.83" ry="0.99" transform="rotate(125 291.4 303.6)" fill="#d2c14a" stroke="#6c6430" stroke-width="0.5"/>
<ellipse cx="335.4" cy="274.4" rx="2.40" ry="1.30" transform="rotate(61 335.4 274.4)" fill="#d4b23e" stroke="#6c6430" stroke-width="0.5"/>
<ellipse cx="299.7" cy="259.7" rx="2.40" ry="1.30" transform="rotate(177 299.7 259.7)" fill="#d4b23e" stroke="#6c6430" stroke-width="0.5"/>
<ellipse cx="340.0" cy="283.9" rx="1.53" ry="0.83" transform="rotate(75 340.0 283.9)" fill="#e6d24c" stroke="#6c6430" stroke-width="0.5"/>
<ellipse cx="285.2" cy="306.6" rx="2.40" ry="1.30" transform="rotate(62 285.2 306.6)" fill="#c8c44e" stroke="#6c6430" stroke-width="0.5"/>
<ellipse cx="282.6" cy="308.9" rx="2.40" ry="1.30" transform="rotate(113 282.6 308.9)" fill="#d2c14a" stroke="#6c6430" stroke-width="0.5"/>
<ellipse cx="336.9" cy="266.8" rx="2.40" ry="1.30" transform="rotate(18 336.9 266.8)" fill="#ead95e" stroke="#6c6430" stroke-width="0.5"/>
<ellipse cx="339.7" cy="270.7" rx="2.40" ry="1.30" transform="rotate(9 339.7 270.7)" fill="#d2c14a" stroke="#6c6430" stroke-width="0.5"/>
<ellipse cx="287.0" cy="260.8" rx="2.40" ry="1.30" transform="rotate(-66 287.0 260.8)" fill="#d2c14a" stroke="#6c6430" stroke-width="0.5"/>
<ellipse cx="296.6" cy="265.4" rx="2.40" ry="1.30" transform="rotate(106 296.6 265.4)" fill="#e6d24c" stroke="#6c6430" stroke-width="0.5"/>
<ellipse cx="344.9" cy="281.7" rx="1.49" ry="0.81" transform="rotate(73 344.9 281.7)" fill="#e6d24c" stroke="#6c6430" stroke-width="0.5"/>
<ellipse cx="334.0" cy="267.9" rx="2.40" ry="1.30" transform="rotate(62 334.0 267.9)" fill="#ead95e" stroke="#6c6430" stroke-width="0.5"/>
<ellipse cx="283.2" cy="316.8" rx="1.94" ry="1.05" transform="rotate(112 283.2 316.8)" fill="#e6d24c" stroke="#6c6430" stroke-width="0.5"/>
<ellipse cx="283.5" cy="292.1" rx="2.40" ry="1.30" transform="rotate(120 283.5 292.1)" fill="#e6d24c" stroke="#6c6430" stroke-width="0.5"/>
<ellipse cx="344.5" cy="278.6" rx="2.40" ry="1.30" transform="rotate(94 344.5 278.6)" fill="#d4b23e" stroke="#6c6430" stroke-width="0.5"/>
<ellipse cx="299.4" cy="282.4" rx="2.40" ry="1.30" transform="rotate(77 299.4 282.4)" fill="#e6d24c" stroke="#6c6430" stroke-width="0.5"/>
<ellipse cx="312.5" cy="269.5" rx="2.40" ry="1.30" transform="rotate(15 312.5 269.5)" fill="#ead95e" stroke="#6c6430" stroke-width="0.5"/>
<ellipse cx="330.6" cy="265.6" rx="2.40" ry="1.30" transform="rotate(63 330.6 265.6)" fill="#e6d24c" stroke="#6c6430" stroke-width="0.5"/>
<circle cx="348.2" cy="284.2" r="0.75" fill="#4f461e"/>
<circle cx="294.0" cy="258.0" r="0.75" fill="#4f461e"/>
<circle cx="338.1" cy="317.3" r="0.75" fill="#4f461e"/>
<circle cx="326.9" cy="277.8" r="0.75" fill="#4f461e"/>
<circle cx="296.1" cy="264.7" r="0.75" fill="#4f461e"/>
<circle cx="298.7" cy="256.9" r="0.75" fill="#4f461e"/>
<circle cx="314.2" cy="256.9" r="0.75" fill="#4f461e"/>
<circle cx="346.4" cy="278.9" r="0.75" fill="#4f461e"/>
<circle cx="331.2" cy="289.2" r="0.75" fill="#4f461e"/>
<circle cx="298.3" cy="271.1" r="0.75" fill="#4f461e"/>
<circle cx="289.8" cy="315.5" r="0.75" fill="#4f461e"/>
<circle cx="291.1" cy="299.1" r="0.75" fill="#4f461e"/>
<circle cx="285.1" cy="294.7" r="0.75" fill="#4f461e"/>
<circle cx="293.1" cy="291.6" r="0.75" fill="#4f461e"/>
<circle cx="279.0" cy="304.8" r="0.75" fill="#4f461e"/>
<circle cx="299.9" cy="275.2" r="0.75" fill="#4f461e"/>
<circle cx="334.3" cy="264.1" r="0.75" fill="#4f461e"/>
<circle cx="345.9" cy="276.2" r="0.75" fill="#4f461e"/>
<circle cx="281.6" cy="280.8" r="0.75" fill="#4f461e"/>
<circle cx="335.9" cy="278.8" r="0.75" fill="#4f461e"/>
<circle cx="293.6" cy="305.2" r="0.75" fill="#4f461e"/>
<circle cx="340.0" cy="299.7" r="0.75" fill="#4f461e"/>
<circle cx="294.1" cy="271.9" r="0.75" fill="#4f461e"/>
<circle cx="289.2" cy="279.7" r="0.75" fill="#4f461e"/>
<circle cx="320.8" cy="261.2" r="0.75" fill="#4f461e"/>
<circle cx="350.4" cy="308.7" r="0.75" fill="#4f461e"/>
<circle cx="282.8" cy="277.6" r="0.75" fill="#4f461e"/>
<circle cx="289.9" cy="311.0" r="0.75" fill="#4f461e"/>
<circle cx="337.8" cy="283.1" r="0.75" fill="#4f461e"/>
<circle cx="286.5" cy="294.6" r="0.75" fill="#4f461e"/>
<circle cx="340.8" cy="315.3" r="0.75" fill="#4f461e"/>
<circle cx="297.7" cy="287.0" r="0.75" fill="#4f461e"/>
<circle cx="287.1" cy="301.5" r="0.75" fill="#4f461e"/>
<circle cx="336.5" cy="269.9" r="0.75" fill="#4f461e"/>
<circle cx="296.4" cy="263.4" r="0.75" fill="#4f461e"/>
<circle cx="338.4" cy="300.8" r="0.75" fill="#4f461e"/>
<circle cx="336.6" cy="293.2" r="0.75" fill="#4f461e"/>
<circle cx="345.2" cy="277.1" r="0.75" fill="#4f461e"/>
<circle cx="280.2" cy="309.4" r="0.75" fill="#4f461e"/>
<circle cx="304.6" cy="270.3" r="0.75" fill="#4f461e"/>
<circle cx="339.5" cy="275.8" r="0.75" fill="#4f461e"/>
<circle cx="331.7" cy="268.8" r="0.75" fill="#4f461e"/>
<circle cx="288.6" cy="271.1" r="0.75" fill="#4f461e"/>
<circle cx="333.7" cy="300.0" r="0.75" fill="#4f461e"/>
<circle cx="342.4" cy="274.8" r="0.75" fill="#4f461e"/>
<circle cx="339.8" cy="283.6" r="0.75" fill="#4f461e"/>
<circle cx="300.1" cy="275.7" r="0.75" fill="#4f461e"/>
<circle cx="324.4" cy="261.4" r="0.75" fill="#4f461e"/>
<circle cx="336.7" cy="279.1" r="0.75" fill="#4f461e"/>
<circle cx="276.4" cy="307.4" r="0.75" fill="#4f461e"/>
<path d="M317.2 274.5 L317.9 275.7 L318.5 276.9 L319.1 278.2 L319.7 279.6 L320.2 281.0 L320.6 282.6 L321.0 284.2 L321.4 285.9 L321.7 287.7 L321.9 289.6 L322.1 291.5 L322.2 293.4 L322.3 295.5 L322.5 297.6 L322.8 299.8 L322.8 302.0 L323.2 302.0 L323.5 299.8 L323.9 297.6 L324.3 295.5 L324.2 293.4 L324.1 291.3 L323.9 289.3 L323.7 287.4 L323.4 285.6 L323.0 283.8 L322.6 282.1 L322.1 280.4 L321.5 278.9 L321.0 277.4 L320.3 276.0 L319.6 274.7 L318.8 273.5Z" fill="#b89a48" stroke="#6c6430" stroke-width="0.8"/>
<path d="M287 259 L284 252.5" stroke="#6c6430" stroke-width="1.1" stroke-linecap="round"/>
<path d="M299 255 L300 249" stroke="#6c6430" stroke-width="1.1" stroke-linecap="round"/>
<path d="M316 255 L318 250" stroke="#6c6430" stroke-width="1.1" stroke-linecap="round"/>
<path d="M344 270 L349 265.5" stroke="#6c6430" stroke-width="1.1" stroke-linecap="round"/>
<path d="M354 288 L360 286.5" stroke="#6c6430" stroke-width="1.1" stroke-linecap="round"/>
<path d="M351 296 L356 297" stroke="#6c6430" stroke-width="1.1" stroke-linecap="round"/>
<path d="M289.0 427.7 L288.5 422.4 L288.1 416.8 L287.8 410.9 L287.4 404.9 L287.1 398.8 L286.9 392.5 L286.7 386.1 L286.5 379.7 L286.4 373.2 L286.3 366.8 L286.3 360.4 L286.3 354.1 L286.4 347.8 L286.6 341.8 L286.7 335.9 L287.0 330.2 L287.4 327.6 L287.8 324.8 L288.2 322.0 L288.6 319.3 L289.1 316.5 L289.6 313.7 L290.1 311.0 L290.7 308.2 L291.3 305.5 L291.9 302.8 L292.1 300.0 L292.2 297.2 L292.4 294.4 L292.6 291.6 L292.8 288.8 L293.5 286.1 L292.5 285.9 L291.7 288.5 L290.5 291.0 L289.3 293.6 L288.2 296.2 L287.0 298.8 L286.0 301.5 L285.4 304.2 L284.8 307.0 L284.3 309.8 L283.7 312.6 L283.2 315.4 L282.7 318.3 L282.3 321.1 L281.8 323.9 L281.4 326.8 L281.0 329.8 L280.8 335.6 L280.6 341.6 L280.4 347.7 L280.3 354.0 L280.3 360.4 L280.3 366.8 L280.4 373.3 L280.5 379.8 L280.7 386.3 L280.9 392.7 L281.1 399.0 L281.4 405.2 L281.8 411.3 L282.1 417.2 L282.6 422.8 L283.0 428.3Z" fill="#74b842" stroke="#4b6a2c" stroke-width="1.3"/>
<path d="M282 427 Q274 429 270 437" fill="none" stroke="#54545f" stroke-width="1.9" stroke-linecap="round"/>
<path d="M283 428 Q276 433 273 444" fill="none" stroke="#54545f" stroke-width="1.9" stroke-linecap="round"/>
<path d="M284 428 Q280 437 278 448" fill="none" stroke="#54545f" stroke-width="1.9" stroke-linecap="round"/>
<path d="M286 428 Q284 438 285 450" fill="none" stroke="#54545f" stroke-width="1.9" stroke-linecap="round"/>
<path d="M288 428 Q290 437 291 448" fill="none" stroke="#54545f" stroke-width="1.9" stroke-linecap="round"/>
<path d="M290 427 Q295 434 297 445" fill="none" stroke="#54545f" stroke-width="1.9" stroke-linecap="round"/>
<path d="M291 427 Q299 430 301 438" fill="none" stroke="#54545f" stroke-width="1.9" stroke-linecap="round"/>
<path d="M285 428 Q279 432 276 441" fill="none" stroke="#54545f" stroke-width="1.9" stroke-linecap="round"/>
<path d="M287 428 Q288 441 282 449" fill="none" stroke="#54545f" stroke-width="1.9" stroke-linecap="round"/>
<path d="M289 428 Q294 440 293 447" fill="none" stroke="#54545f" stroke-width="1.9" stroke-linecap="round"/>
<path d="M283 428 Q276 433 273 444" fill="none" stroke="#a2a2ae" stroke-width="0.6" stroke-linecap="round"/>
<path d="M286 428 Q284 438 285 450" fill="none" stroke="#a2a2ae" stroke-width="0.6" stroke-linecap="round"/>
<path d="M290 427 Q295 434 297 445" fill="none" stroke="#a2a2ae" stroke-width="0.6" stroke-linecap="round"/>
<path d="M285 428 Q279 432 276 441" fill="none" stroke="#a2a2ae" stroke-width="0.6" stroke-linecap="round"/>
<path d="M289 428 Q294 440 293 447" fill="none" stroke="#a2a2ae" stroke-width="0.6" stroke-linecap="round"/>
</g>
</svg>
</body></html>
